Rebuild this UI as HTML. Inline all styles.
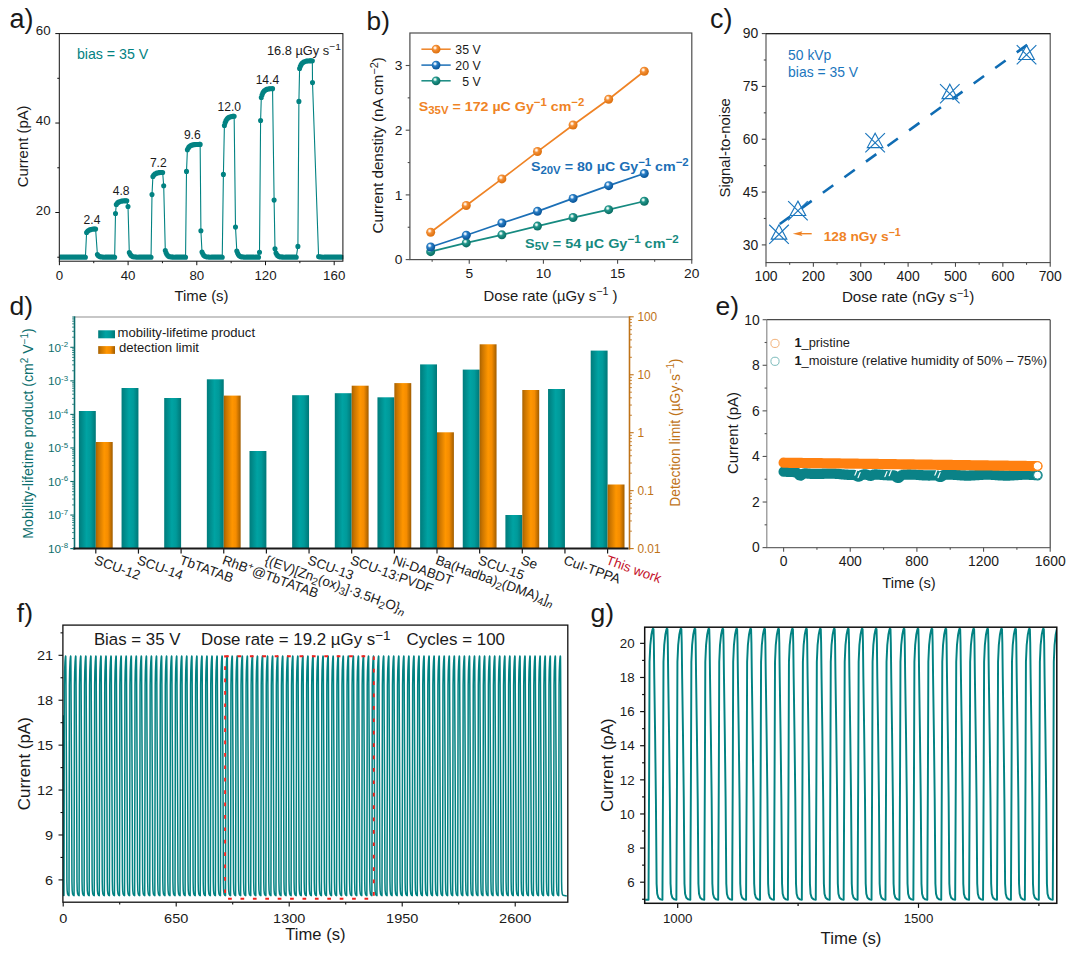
<!DOCTYPE html>
<html><head><meta charset="utf-8"><title>Figure</title>
<style>
html,body{margin:0;padding:0;background:#fff;}
body{width:1074px;height:953px;overflow:hidden;}
svg{display:block;font-family:'Liberation Sans', sans-serif;}
</style></head><body>
<svg width="1074" height="953" viewBox="0 0 1074 953">
<rect width="1074" height="953" fill="#fff"/>
<defs>
<radialGradient id="gO" cx="0.40" cy="0.38" r="0.68" fx="0.38" fy="0.34"><stop offset="0" stop-color="#ffffff"/><stop offset="0.14" stop-color="#ffe9d2"/><stop offset="0.36" stop-color="#f59037"/><stop offset="0.8" stop-color="#e07514"/><stop offset="1" stop-color="#e07514"/></radialGradient>
<radialGradient id="gB" cx="0.40" cy="0.38" r="0.68" fx="0.38" fy="0.34"><stop offset="0" stop-color="#ffffff"/><stop offset="0.14" stop-color="#d5e9fa"/><stop offset="0.36" stop-color="#2a7fc6"/><stop offset="0.8" stop-color="#0d5a9e"/><stop offset="1" stop-color="#0d5a9e"/></radialGradient>
<radialGradient id="gT" cx="0.40" cy="0.38" r="0.68" fx="0.38" fy="0.34"><stop offset="0" stop-color="#ffffff"/><stop offset="0.14" stop-color="#d2efe9"/><stop offset="0.36" stop-color="#22978c"/><stop offset="0.8" stop-color="#0d7268"/><stop offset="1" stop-color="#0d7268"/></radialGradient>
<linearGradient id="bT" x1="0" x2="1" y1="0" y2="0"><stop offset="0" stop-color="#007c7c"/><stop offset="0.12" stop-color="#008686"/><stop offset="0.45" stop-color="#00a3a3"/><stop offset="0.7" stop-color="#009a9a"/><stop offset="0.92" stop-color="#008080"/><stop offset="1" stop-color="#007878"/></linearGradient>
<linearGradient id="bO" x1="0" x2="1" y1="0" y2="0"><stop offset="0" stop-color="#a86200"/><stop offset="0.15" stop-color="#c97400"/><stop offset="0.5" stop-color="#ff9600"/><stop offset="0.72" stop-color="#f58c00"/><stop offset="0.92" stop-color="#b86a00"/><stop offset="1" stop-color="#a05c00"/></linearGradient>
</defs>
<clipPath id="ca"><rect x="59.3" y="33.6" width="284.1" height="227.6"/></clipPath>
<g clip-path="url(#ca)">
<polyline points="59.9,257.23 60.65,257.23 61.4,257.23 62.15,257.23 62.9,257.23 63.65,257.23 64.4,257.23 65.15,257.23 65.9,257.23 66.65,257.23 67.4,257.23 68.15,257.23 68.9,257.23 69.65,257.23 70.4,257.23 71.15,257.23 71.9,257.23 72.65,257.23 73.4,257.23 74.15,257.23 74.9,257.23 75.65,257.23 76.4,257.23 77.15,257.23 77.9,257.23 78.65,257.23 79.4,257.23 80.15,257.23 80.9,257.23 81.65,257.23 82.4,257.23 83.15,257.23 83.9,257.23 84.65,257.23 85.4,257.23 86.6,232.5 87.35,231.49 88.1,230.77 88.85,230.26 89.6,229.9 90.35,229.64 91.1,229.45 91.85,229.32 92.6,229.23 93.35,229.16 94.1,229.12 94.85,229.08 95.6,229.06 97.4,254.5 98.15,255.43 98.9,256.04 99.65,256.45 100.4,256.71 101.15,256.89 101.9,257.01 102.65,257.08 103.4,257.23 104.15,257.23 104.9,257.23 105.65,257.23 106.4,257.23 107.15,257.23 107.9,257.23 108.65,257.23 109.4,257.23 110.15,257.23 110.9,257.23 111.65,257.23 112.4,257.23 113.15,257.23 113.9,257.23 114.65,257.23 115.5,213.5 116.3,204.5 117.05,203.43 117.8,202.67 118.55,202.13 119.3,201.75 120.05,201.47 120.8,201.28 121.55,201.14 122.3,201.04 123.05,200.97 123.8,200.92 124.55,200.89 125.3,200.86 126.05,200.84 126.8,200.83 128,206.5 129.3,252.5 130.05,254.11 130.8,255.17 131.55,255.87 132.3,256.34 133.05,256.64 133.8,256.84 134.55,256.97 135.3,257.06 136.05,257.12 136.8,257.23 137.55,257.23 138.3,257.23 139.05,257.23 139.8,257.23 140.55,257.23 141.3,257.23 142.05,257.23 142.8,257.23 143.55,257.23 144.3,257.23 145.05,257.23 145.8,257.23 146.55,257.23 147.3,257.23 148.05,257.23 148.8,257.23 149.55,257.23 150.3,257.23 151.05,257.23 152,194.6 152.9,176.5 153.65,175.32 154.4,174.47 155.15,173.87 155.9,173.45 156.65,173.15 157.4,172.93 158.15,172.78 158.9,172.67 159.65,172.59 160.4,172.54 161.15,172.5 161.9,172.47 162.65,172.45 163.7,185.7 165.3,250.5 166.05,252.79 166.8,254.31 167.55,255.3 168.3,255.96 169.05,256.39 169.8,256.68 170.55,256.87 171.3,256.99 172.05,257.07 172.8,257.13 173.55,257.23 174.3,257.23 175.05,257.23 175.8,257.23 176.55,257.23 177.3,257.23 178.05,257.23 178.8,257.23 179.55,257.23 180.3,257.23 181.05,257.23 181.8,257.23 182.55,257.23 183.3,257.23 184.05,257.23 184.8,257.23 185.55,257.23 186.5,171.4 187.4,149.8 188.15,148.24 188.9,147.13 189.65,146.34 190.4,145.78 191.15,145.38 191.9,145.1 192.65,144.9 193.4,144.75 194.15,144.65 194.9,144.58 195.65,144.53 196.4,144.49 197.15,144.46 197.9,144.45 198.65,144.43 199.4,144.42 200.15,144.42 200.9,230.7 202,252 202.75,253.78 203.5,254.96 204.25,255.73 205,256.24 205.75,256.58 206.5,256.8 207.25,256.95 208,257.04 208.75,257.11 209.5,257.23 210.25,257.23 211,257.23 211.75,257.23 212.5,257.23 213.25,257.23 214,257.23 214.75,257.23 215.5,257.23 216.25,257.23 217,257.23 217.75,257.23 218.5,257.23 219.25,257.23 220,257.23 220.75,257.23 221.5,257.23 222.25,257.23 223.4,174.4 224.4,125.5 225.15,122.81 225.9,120.9 226.65,119.54 227.4,118.58 228.15,117.89 228.9,117.4 229.65,117.06 230.4,116.81 231.15,116.63 231.9,116.51 232.65,116.42 233.4,116.36 234.15,116.31 235.5,227 236.8,251 237.55,253.12 238.3,254.52 239.05,255.45 239.8,256.05 240.55,256.45 241.3,256.72 242.05,256.89 242.8,257.01 243.55,257.08 244.3,257.23 245.05,257.23 245.8,257.23 246.55,257.23 247.3,257.23 248.05,257.23 248.8,257.23 249.55,257.23 250.3,257.23 251.05,257.23 251.8,257.23 252.55,257.23 253.3,257.23 254.05,257.23 254.8,257.23 255.55,257.23 256.3,257.23 257.05,257.23 257.8,257.23 258.55,257.23 259.5,252.2 260.6,120.5 261.3,97.5 262.05,94.93 262.8,93.1 263.55,91.8 264.3,90.88 265.05,90.22 265.8,89.75 266.55,89.42 267.3,89.18 268.05,89.01 268.8,88.89 269.55,88.81 270.3,88.75 271.05,88.71 271.8,88.68 272.55,88.65 274.1,200.1 275,248.8 276,253 276.75,254.44 277.5,255.39 278.25,256.02 279,256.43 279.75,256.7 280.5,256.88 281.25,257 282,257.08 282.75,257.13 283.5,257.23 284.25,257.23 285,257.23 285.75,257.23 286.5,257.23 287.25,257.23 288,257.23 288.75,257.23 289.5,257.23 290.25,257.23 291,257.23 291.75,257.23 292.5,257.23 293.25,257.23 294,257.23 294.75,257.23 295.5,257.23 296.25,257.23 297.9,246.4 298.9,101.4 299.6,68.5 300.35,66.28 301.1,64.69 301.85,63.57 302.6,62.77 303.35,62.2 304.1,61.8 304.85,61.51 305.6,61.3 306.35,61.16 307.1,61.05 307.85,60.98 308.6,60.93 309.35,60.89 310.1,60.87 310.85,60.85 311.6,60.83 312.35,60.82 312.5,82.6 318.6,256.5 319.35,256.75 320.1,256.91 320.85,257.02 321.6,257.09 322.35,257.23 323.1,257.23 323.85,257.23 324.6,257.23 325.35,257.23 326.1,257.23 326.85,257.23 327.6,257.23 328.35,257.23 329.1,257.23 329.85,257.23 330.6,257.23 331.35,257.23 332.1,257.23 332.85,257.23 333.6,257.23 334.35,257.23 335.1,257.23 335.85,257.23 336.6,257.23 337.35,257.23 338.1,257.23 338.85,257.23 339.6,257.23 340.35,257.23 341.1,257.23 341.85,257.23" fill="none" stroke="#028282" stroke-width="1.1" stroke-linejoin="round"/>
<path d="M57.35 257.23a2.55 2.55 0 1 0 5.1 0a2.55 2.55 0 1 0 -5.1 0M58.1 257.23a2.55 2.55 0 1 0 5.1 0a2.55 2.55 0 1 0 -5.1 0M58.85 257.23a2.55 2.55 0 1 0 5.1 0a2.55 2.55 0 1 0 -5.1 0M59.6 257.23a2.55 2.55 0 1 0 5.1 0a2.55 2.55 0 1 0 -5.1 0M60.35 257.23a2.55 2.55 0 1 0 5.1 0a2.55 2.55 0 1 0 -5.1 0M61.1 257.23a2.55 2.55 0 1 0 5.1 0a2.55 2.55 0 1 0 -5.1 0M61.85 257.23a2.55 2.55 0 1 0 5.1 0a2.55 2.55 0 1 0 -5.1 0M62.6 257.23a2.55 2.55 0 1 0 5.1 0a2.55 2.55 0 1 0 -5.1 0M63.35 257.23a2.55 2.55 0 1 0 5.1 0a2.55 2.55 0 1 0 -5.1 0M64.1 257.23a2.55 2.55 0 1 0 5.1 0a2.55 2.55 0 1 0 -5.1 0M64.85 257.23a2.55 2.55 0 1 0 5.1 0a2.55 2.55 0 1 0 -5.1 0M65.6 257.23a2.55 2.55 0 1 0 5.1 0a2.55 2.55 0 1 0 -5.1 0M66.35 257.23a2.55 2.55 0 1 0 5.1 0a2.55 2.55 0 1 0 -5.1 0M67.1 257.23a2.55 2.55 0 1 0 5.1 0a2.55 2.55 0 1 0 -5.1 0M67.85 257.23a2.55 2.55 0 1 0 5.1 0a2.55 2.55 0 1 0 -5.1 0M68.6 257.23a2.55 2.55 0 1 0 5.1 0a2.55 2.55 0 1 0 -5.1 0M69.35 257.23a2.55 2.55 0 1 0 5.1 0a2.55 2.55 0 1 0 -5.1 0M70.1 257.23a2.55 2.55 0 1 0 5.1 0a2.55 2.55 0 1 0 -5.1 0M70.85 257.23a2.55 2.55 0 1 0 5.1 0a2.55 2.55 0 1 0 -5.1 0M71.6 257.23a2.55 2.55 0 1 0 5.1 0a2.55 2.55 0 1 0 -5.1 0M72.35 257.23a2.55 2.55 0 1 0 5.1 0a2.55 2.55 0 1 0 -5.1 0M73.1 257.23a2.55 2.55 0 1 0 5.1 0a2.55 2.55 0 1 0 -5.1 0M73.85 257.23a2.55 2.55 0 1 0 5.1 0a2.55 2.55 0 1 0 -5.1 0M74.6 257.23a2.55 2.55 0 1 0 5.1 0a2.55 2.55 0 1 0 -5.1 0M75.35 257.23a2.55 2.55 0 1 0 5.1 0a2.55 2.55 0 1 0 -5.1 0M76.1 257.23a2.55 2.55 0 1 0 5.1 0a2.55 2.55 0 1 0 -5.1 0M76.85 257.23a2.55 2.55 0 1 0 5.1 0a2.55 2.55 0 1 0 -5.1 0M77.6 257.23a2.55 2.55 0 1 0 5.1 0a2.55 2.55 0 1 0 -5.1 0M78.35 257.23a2.55 2.55 0 1 0 5.1 0a2.55 2.55 0 1 0 -5.1 0M79.1 257.23a2.55 2.55 0 1 0 5.1 0a2.55 2.55 0 1 0 -5.1 0M79.85 257.23a2.55 2.55 0 1 0 5.1 0a2.55 2.55 0 1 0 -5.1 0M80.6 257.23a2.55 2.55 0 1 0 5.1 0a2.55 2.55 0 1 0 -5.1 0M81.35 257.23a2.55 2.55 0 1 0 5.1 0a2.55 2.55 0 1 0 -5.1 0M82.1 257.23a2.55 2.55 0 1 0 5.1 0a2.55 2.55 0 1 0 -5.1 0M82.85 257.23a2.55 2.55 0 1 0 5.1 0a2.55 2.55 0 1 0 -5.1 0M84.05 232.5a2.55 2.55 0 1 0 5.1 0a2.55 2.55 0 1 0 -5.1 0M84.8 231.49a2.55 2.55 0 1 0 5.1 0a2.55 2.55 0 1 0 -5.1 0M85.55 230.77a2.55 2.55 0 1 0 5.1 0a2.55 2.55 0 1 0 -5.1 0M86.3 230.26a2.55 2.55 0 1 0 5.1 0a2.55 2.55 0 1 0 -5.1 0M87.05 229.9a2.55 2.55 0 1 0 5.1 0a2.55 2.55 0 1 0 -5.1 0M87.8 229.64a2.55 2.55 0 1 0 5.1 0a2.55 2.55 0 1 0 -5.1 0M88.55 229.45a2.55 2.55 0 1 0 5.1 0a2.55 2.55 0 1 0 -5.1 0M89.3 229.32a2.55 2.55 0 1 0 5.1 0a2.55 2.55 0 1 0 -5.1 0M90.05 229.23a2.55 2.55 0 1 0 5.1 0a2.55 2.55 0 1 0 -5.1 0M90.8 229.16a2.55 2.55 0 1 0 5.1 0a2.55 2.55 0 1 0 -5.1 0M91.55 229.12a2.55 2.55 0 1 0 5.1 0a2.55 2.55 0 1 0 -5.1 0M92.3 229.08a2.55 2.55 0 1 0 5.1 0a2.55 2.55 0 1 0 -5.1 0M93.05 229.06a2.55 2.55 0 1 0 5.1 0a2.55 2.55 0 1 0 -5.1 0M94.85 254.5a2.55 2.55 0 1 0 5.1 0a2.55 2.55 0 1 0 -5.1 0M95.6 255.43a2.55 2.55 0 1 0 5.1 0a2.55 2.55 0 1 0 -5.1 0M96.35 256.04a2.55 2.55 0 1 0 5.1 0a2.55 2.55 0 1 0 -5.1 0M97.1 256.45a2.55 2.55 0 1 0 5.1 0a2.55 2.55 0 1 0 -5.1 0M97.85 256.71a2.55 2.55 0 1 0 5.1 0a2.55 2.55 0 1 0 -5.1 0M98.6 256.89a2.55 2.55 0 1 0 5.1 0a2.55 2.55 0 1 0 -5.1 0M99.35 257.01a2.55 2.55 0 1 0 5.1 0a2.55 2.55 0 1 0 -5.1 0M100.1 257.08a2.55 2.55 0 1 0 5.1 0a2.55 2.55 0 1 0 -5.1 0M100.85 257.23a2.55 2.55 0 1 0 5.1 0a2.55 2.55 0 1 0 -5.1 0M101.6 257.23a2.55 2.55 0 1 0 5.1 0a2.55 2.55 0 1 0 -5.1 0M102.35 257.23a2.55 2.55 0 1 0 5.1 0a2.55 2.55 0 1 0 -5.1 0M103.1 257.23a2.55 2.55 0 1 0 5.1 0a2.55 2.55 0 1 0 -5.1 0M103.85 257.23a2.55 2.55 0 1 0 5.1 0a2.55 2.55 0 1 0 -5.1 0M104.6 257.23a2.55 2.55 0 1 0 5.1 0a2.55 2.55 0 1 0 -5.1 0M105.35 257.23a2.55 2.55 0 1 0 5.1 0a2.55 2.55 0 1 0 -5.1 0M106.1 257.23a2.55 2.55 0 1 0 5.1 0a2.55 2.55 0 1 0 -5.1 0M106.85 257.23a2.55 2.55 0 1 0 5.1 0a2.55 2.55 0 1 0 -5.1 0M107.6 257.23a2.55 2.55 0 1 0 5.1 0a2.55 2.55 0 1 0 -5.1 0M108.35 257.23a2.55 2.55 0 1 0 5.1 0a2.55 2.55 0 1 0 -5.1 0M109.1 257.23a2.55 2.55 0 1 0 5.1 0a2.55 2.55 0 1 0 -5.1 0M109.85 257.23a2.55 2.55 0 1 0 5.1 0a2.55 2.55 0 1 0 -5.1 0M110.6 257.23a2.55 2.55 0 1 0 5.1 0a2.55 2.55 0 1 0 -5.1 0M111.35 257.23a2.55 2.55 0 1 0 5.1 0a2.55 2.55 0 1 0 -5.1 0M112.1 257.23a2.55 2.55 0 1 0 5.1 0a2.55 2.55 0 1 0 -5.1 0M112.95 213.5a2.55 2.55 0 1 0 5.1 0a2.55 2.55 0 1 0 -5.1 0M113.75 204.5a2.55 2.55 0 1 0 5.1 0a2.55 2.55 0 1 0 -5.1 0M114.5 203.43a2.55 2.55 0 1 0 5.1 0a2.55 2.55 0 1 0 -5.1 0M115.25 202.67a2.55 2.55 0 1 0 5.1 0a2.55 2.55 0 1 0 -5.1 0M116 202.13a2.55 2.55 0 1 0 5.1 0a2.55 2.55 0 1 0 -5.1 0M116.75 201.75a2.55 2.55 0 1 0 5.1 0a2.55 2.55 0 1 0 -5.1 0M117.5 201.47a2.55 2.55 0 1 0 5.1 0a2.55 2.55 0 1 0 -5.1 0M118.25 201.28a2.55 2.55 0 1 0 5.1 0a2.55 2.55 0 1 0 -5.1 0M119 201.14a2.55 2.55 0 1 0 5.1 0a2.55 2.55 0 1 0 -5.1 0M119.75 201.04a2.55 2.55 0 1 0 5.1 0a2.55 2.55 0 1 0 -5.1 0M120.5 200.97a2.55 2.55 0 1 0 5.1 0a2.55 2.55 0 1 0 -5.1 0M121.25 200.92a2.55 2.55 0 1 0 5.1 0a2.55 2.55 0 1 0 -5.1 0M122 200.89a2.55 2.55 0 1 0 5.1 0a2.55 2.55 0 1 0 -5.1 0M122.75 200.86a2.55 2.55 0 1 0 5.1 0a2.55 2.55 0 1 0 -5.1 0M123.5 200.84a2.55 2.55 0 1 0 5.1 0a2.55 2.55 0 1 0 -5.1 0M124.25 200.83a2.55 2.55 0 1 0 5.1 0a2.55 2.55 0 1 0 -5.1 0M125.45 206.5a2.55 2.55 0 1 0 5.1 0a2.55 2.55 0 1 0 -5.1 0M126.75 252.5a2.55 2.55 0 1 0 5.1 0a2.55 2.55 0 1 0 -5.1 0M127.5 254.11a2.55 2.55 0 1 0 5.1 0a2.55 2.55 0 1 0 -5.1 0M128.25 255.17a2.55 2.55 0 1 0 5.1 0a2.55 2.55 0 1 0 -5.1 0M129 255.87a2.55 2.55 0 1 0 5.1 0a2.55 2.55 0 1 0 -5.1 0M129.75 256.34a2.55 2.55 0 1 0 5.1 0a2.55 2.55 0 1 0 -5.1 0M130.5 256.64a2.55 2.55 0 1 0 5.1 0a2.55 2.55 0 1 0 -5.1 0M131.25 256.84a2.55 2.55 0 1 0 5.1 0a2.55 2.55 0 1 0 -5.1 0M132 256.97a2.55 2.55 0 1 0 5.1 0a2.55 2.55 0 1 0 -5.1 0M132.75 257.06a2.55 2.55 0 1 0 5.1 0a2.55 2.55 0 1 0 -5.1 0M133.5 257.12a2.55 2.55 0 1 0 5.1 0a2.55 2.55 0 1 0 -5.1 0M134.25 257.23a2.55 2.55 0 1 0 5.1 0a2.55 2.55 0 1 0 -5.1 0M135 257.23a2.55 2.55 0 1 0 5.1 0a2.55 2.55 0 1 0 -5.1 0M135.75 257.23a2.55 2.55 0 1 0 5.1 0a2.55 2.55 0 1 0 -5.1 0M136.5 257.23a2.55 2.55 0 1 0 5.1 0a2.55 2.55 0 1 0 -5.1 0M137.25 257.23a2.55 2.55 0 1 0 5.1 0a2.55 2.55 0 1 0 -5.1 0M138 257.23a2.55 2.55 0 1 0 5.1 0a2.55 2.55 0 1 0 -5.1 0M138.75 257.23a2.55 2.55 0 1 0 5.1 0a2.55 2.55 0 1 0 -5.1 0M139.5 257.23a2.55 2.55 0 1 0 5.1 0a2.55 2.55 0 1 0 -5.1 0M140.25 257.23a2.55 2.55 0 1 0 5.1 0a2.55 2.55 0 1 0 -5.1 0M141 257.23a2.55 2.55 0 1 0 5.1 0a2.55 2.55 0 1 0 -5.1 0M141.75 257.23a2.55 2.55 0 1 0 5.1 0a2.55 2.55 0 1 0 -5.1 0M142.5 257.23a2.55 2.55 0 1 0 5.1 0a2.55 2.55 0 1 0 -5.1 0M143.25 257.23a2.55 2.55 0 1 0 5.1 0a2.55 2.55 0 1 0 -5.1 0M144 257.23a2.55 2.55 0 1 0 5.1 0a2.55 2.55 0 1 0 -5.1 0M144.75 257.23a2.55 2.55 0 1 0 5.1 0a2.55 2.55 0 1 0 -5.1 0M145.5 257.23a2.55 2.55 0 1 0 5.1 0a2.55 2.55 0 1 0 -5.1 0M146.25 257.23a2.55 2.55 0 1 0 5.1 0a2.55 2.55 0 1 0 -5.1 0M147 257.23a2.55 2.55 0 1 0 5.1 0a2.55 2.55 0 1 0 -5.1 0M147.75 257.23a2.55 2.55 0 1 0 5.1 0a2.55 2.55 0 1 0 -5.1 0M148.5 257.23a2.55 2.55 0 1 0 5.1 0a2.55 2.55 0 1 0 -5.1 0M149.45 194.6a2.55 2.55 0 1 0 5.1 0a2.55 2.55 0 1 0 -5.1 0M150.35 176.5a2.55 2.55 0 1 0 5.1 0a2.55 2.55 0 1 0 -5.1 0M151.1 175.32a2.55 2.55 0 1 0 5.1 0a2.55 2.55 0 1 0 -5.1 0M151.85 174.47a2.55 2.55 0 1 0 5.1 0a2.55 2.55 0 1 0 -5.1 0M152.6 173.87a2.55 2.55 0 1 0 5.1 0a2.55 2.55 0 1 0 -5.1 0M153.35 173.45a2.55 2.55 0 1 0 5.1 0a2.55 2.55 0 1 0 -5.1 0M154.1 173.15a2.55 2.55 0 1 0 5.1 0a2.55 2.55 0 1 0 -5.1 0M154.85 172.93a2.55 2.55 0 1 0 5.1 0a2.55 2.55 0 1 0 -5.1 0M155.6 172.78a2.55 2.55 0 1 0 5.1 0a2.55 2.55 0 1 0 -5.1 0M156.35 172.67a2.55 2.55 0 1 0 5.1 0a2.55 2.55 0 1 0 -5.1 0M157.1 172.59a2.55 2.55 0 1 0 5.1 0a2.55 2.55 0 1 0 -5.1 0M157.85 172.54a2.55 2.55 0 1 0 5.1 0a2.55 2.55 0 1 0 -5.1 0M158.6 172.5a2.55 2.55 0 1 0 5.1 0a2.55 2.55 0 1 0 -5.1 0M159.35 172.47a2.55 2.55 0 1 0 5.1 0a2.55 2.55 0 1 0 -5.1 0M160.1 172.45a2.55 2.55 0 1 0 5.1 0a2.55 2.55 0 1 0 -5.1 0M161.15 185.7a2.55 2.55 0 1 0 5.1 0a2.55 2.55 0 1 0 -5.1 0M162.75 250.5a2.55 2.55 0 1 0 5.1 0a2.55 2.55 0 1 0 -5.1 0M163.5 252.79a2.55 2.55 0 1 0 5.1 0a2.55 2.55 0 1 0 -5.1 0M164.25 254.31a2.55 2.55 0 1 0 5.1 0a2.55 2.55 0 1 0 -5.1 0M165 255.3a2.55 2.55 0 1 0 5.1 0a2.55 2.55 0 1 0 -5.1 0M165.75 255.96a2.55 2.55 0 1 0 5.1 0a2.55 2.55 0 1 0 -5.1 0M166.5 256.39a2.55 2.55 0 1 0 5.1 0a2.55 2.55 0 1 0 -5.1 0M167.25 256.68a2.55 2.55 0 1 0 5.1 0a2.55 2.55 0 1 0 -5.1 0M168 256.87a2.55 2.55 0 1 0 5.1 0a2.55 2.55 0 1 0 -5.1 0M168.75 256.99a2.55 2.55 0 1 0 5.1 0a2.55 2.55 0 1 0 -5.1 0M169.5 257.07a2.55 2.55 0 1 0 5.1 0a2.55 2.55 0 1 0 -5.1 0M170.25 257.13a2.55 2.55 0 1 0 5.1 0a2.55 2.55 0 1 0 -5.1 0M171 257.23a2.55 2.55 0 1 0 5.1 0a2.55 2.55 0 1 0 -5.1 0M171.75 257.23a2.55 2.55 0 1 0 5.1 0a2.55 2.55 0 1 0 -5.1 0M172.5 257.23a2.55 2.55 0 1 0 5.1 0a2.55 2.55 0 1 0 -5.1 0M173.25 257.23a2.55 2.55 0 1 0 5.1 0a2.55 2.55 0 1 0 -5.1 0M174 257.23a2.55 2.55 0 1 0 5.1 0a2.55 2.55 0 1 0 -5.1 0M174.75 257.23a2.55 2.55 0 1 0 5.1 0a2.55 2.55 0 1 0 -5.1 0M175.5 257.23a2.55 2.55 0 1 0 5.1 0a2.55 2.55 0 1 0 -5.1 0M176.25 257.23a2.55 2.55 0 1 0 5.1 0a2.55 2.55 0 1 0 -5.1 0M177 257.23a2.55 2.55 0 1 0 5.1 0a2.55 2.55 0 1 0 -5.1 0M177.75 257.23a2.55 2.55 0 1 0 5.1 0a2.55 2.55 0 1 0 -5.1 0M178.5 257.23a2.55 2.55 0 1 0 5.1 0a2.55 2.55 0 1 0 -5.1 0M179.25 257.23a2.55 2.55 0 1 0 5.1 0a2.55 2.55 0 1 0 -5.1 0M180 257.23a2.55 2.55 0 1 0 5.1 0a2.55 2.55 0 1 0 -5.1 0M180.75 257.23a2.55 2.55 0 1 0 5.1 0a2.55 2.55 0 1 0 -5.1 0M181.5 257.23a2.55 2.55 0 1 0 5.1 0a2.55 2.55 0 1 0 -5.1 0M182.25 257.23a2.55 2.55 0 1 0 5.1 0a2.55 2.55 0 1 0 -5.1 0M183 257.23a2.55 2.55 0 1 0 5.1 0a2.55 2.55 0 1 0 -5.1 0M183.95 171.4a2.55 2.55 0 1 0 5.1 0a2.55 2.55 0 1 0 -5.1 0M184.85 149.8a2.55 2.55 0 1 0 5.1 0a2.55 2.55 0 1 0 -5.1 0M185.6 148.24a2.55 2.55 0 1 0 5.1 0a2.55 2.55 0 1 0 -5.1 0M186.35 147.13a2.55 2.55 0 1 0 5.1 0a2.55 2.55 0 1 0 -5.1 0M187.1 146.34a2.55 2.55 0 1 0 5.1 0a2.55 2.55 0 1 0 -5.1 0M187.85 145.78a2.55 2.55 0 1 0 5.1 0a2.55 2.55 0 1 0 -5.1 0M188.6 145.38a2.55 2.55 0 1 0 5.1 0a2.55 2.55 0 1 0 -5.1 0M189.35 145.1a2.55 2.55 0 1 0 5.1 0a2.55 2.55 0 1 0 -5.1 0M190.1 144.9a2.55 2.55 0 1 0 5.1 0a2.55 2.55 0 1 0 -5.1 0M190.85 144.75a2.55 2.55 0 1 0 5.1 0a2.55 2.55 0 1 0 -5.1 0M191.6 144.65a2.55 2.55 0 1 0 5.1 0a2.55 2.55 0 1 0 -5.1 0M192.35 144.58a2.55 2.55 0 1 0 5.1 0a2.55 2.55 0 1 0 -5.1 0M193.1 144.53a2.55 2.55 0 1 0 5.1 0a2.55 2.55 0 1 0 -5.1 0M193.85 144.49a2.55 2.55 0 1 0 5.1 0a2.55 2.55 0 1 0 -5.1 0M194.6 144.46a2.55 2.55 0 1 0 5.1 0a2.55 2.55 0 1 0 -5.1 0M195.35 144.45a2.55 2.55 0 1 0 5.1 0a2.55 2.55 0 1 0 -5.1 0M196.1 144.43a2.55 2.55 0 1 0 5.1 0a2.55 2.55 0 1 0 -5.1 0M196.85 144.42a2.55 2.55 0 1 0 5.1 0a2.55 2.55 0 1 0 -5.1 0M197.6 144.42a2.55 2.55 0 1 0 5.1 0a2.55 2.55 0 1 0 -5.1 0M198.35 230.7a2.55 2.55 0 1 0 5.1 0a2.55 2.55 0 1 0 -5.1 0M199.45 252a2.55 2.55 0 1 0 5.1 0a2.55 2.55 0 1 0 -5.1 0M200.2 253.78a2.55 2.55 0 1 0 5.1 0a2.55 2.55 0 1 0 -5.1 0M200.95 254.96a2.55 2.55 0 1 0 5.1 0a2.55 2.55 0 1 0 -5.1 0M201.7 255.73a2.55 2.55 0 1 0 5.1 0a2.55 2.55 0 1 0 -5.1 0M202.45 256.24a2.55 2.55 0 1 0 5.1 0a2.55 2.55 0 1 0 -5.1 0M203.2 256.58a2.55 2.55 0 1 0 5.1 0a2.55 2.55 0 1 0 -5.1 0M203.95 256.8a2.55 2.55 0 1 0 5.1 0a2.55 2.55 0 1 0 -5.1 0M204.7 256.95a2.55 2.55 0 1 0 5.1 0a2.55 2.55 0 1 0 -5.1 0M205.45 257.04a2.55 2.55 0 1 0 5.1 0a2.55 2.55 0 1 0 -5.1 0M206.2 257.11a2.55 2.55 0 1 0 5.1 0a2.55 2.55 0 1 0 -5.1 0M206.95 257.23a2.55 2.55 0 1 0 5.1 0a2.55 2.55 0 1 0 -5.1 0M207.7 257.23a2.55 2.55 0 1 0 5.1 0a2.55 2.55 0 1 0 -5.1 0M208.45 257.23a2.55 2.55 0 1 0 5.1 0a2.55 2.55 0 1 0 -5.1 0M209.2 257.23a2.55 2.55 0 1 0 5.1 0a2.55 2.55 0 1 0 -5.1 0M209.95 257.23a2.55 2.55 0 1 0 5.1 0a2.55 2.55 0 1 0 -5.1 0M210.7 257.23a2.55 2.55 0 1 0 5.1 0a2.55 2.55 0 1 0 -5.1 0M211.45 257.23a2.55 2.55 0 1 0 5.1 0a2.55 2.55 0 1 0 -5.1 0M212.2 257.23a2.55 2.55 0 1 0 5.1 0a2.55 2.55 0 1 0 -5.1 0M212.95 257.23a2.55 2.55 0 1 0 5.1 0a2.55 2.55 0 1 0 -5.1 0M213.7 257.23a2.55 2.55 0 1 0 5.1 0a2.55 2.55 0 1 0 -5.1 0M214.45 257.23a2.55 2.55 0 1 0 5.1 0a2.55 2.55 0 1 0 -5.1 0M215.2 257.23a2.55 2.55 0 1 0 5.1 0a2.55 2.55 0 1 0 -5.1 0M215.95 257.23a2.55 2.55 0 1 0 5.1 0a2.55 2.55 0 1 0 -5.1 0M216.7 257.23a2.55 2.55 0 1 0 5.1 0a2.55 2.55 0 1 0 -5.1 0M217.45 257.23a2.55 2.55 0 1 0 5.1 0a2.55 2.55 0 1 0 -5.1 0M218.2 257.23a2.55 2.55 0 1 0 5.1 0a2.55 2.55 0 1 0 -5.1 0M218.95 257.23a2.55 2.55 0 1 0 5.1 0a2.55 2.55 0 1 0 -5.1 0M219.7 257.23a2.55 2.55 0 1 0 5.1 0a2.55 2.55 0 1 0 -5.1 0M220.85 174.4a2.55 2.55 0 1 0 5.1 0a2.55 2.55 0 1 0 -5.1 0M221.85 125.5a2.55 2.55 0 1 0 5.1 0a2.55 2.55 0 1 0 -5.1 0M222.6 122.81a2.55 2.55 0 1 0 5.1 0a2.55 2.55 0 1 0 -5.1 0M223.35 120.9a2.55 2.55 0 1 0 5.1 0a2.55 2.55 0 1 0 -5.1 0M224.1 119.54a2.55 2.55 0 1 0 5.1 0a2.55 2.55 0 1 0 -5.1 0M224.85 118.58a2.55 2.55 0 1 0 5.1 0a2.55 2.55 0 1 0 -5.1 0M225.6 117.89a2.55 2.55 0 1 0 5.1 0a2.55 2.55 0 1 0 -5.1 0M226.35 117.4a2.55 2.55 0 1 0 5.1 0a2.55 2.55 0 1 0 -5.1 0M227.1 117.06a2.55 2.55 0 1 0 5.1 0a2.55 2.55 0 1 0 -5.1 0M227.85 116.81a2.55 2.55 0 1 0 5.1 0a2.55 2.55 0 1 0 -5.1 0M228.6 116.63a2.55 2.55 0 1 0 5.1 0a2.55 2.55 0 1 0 -5.1 0M229.35 116.51a2.55 2.55 0 1 0 5.1 0a2.55 2.55 0 1 0 -5.1 0M230.1 116.42a2.55 2.55 0 1 0 5.1 0a2.55 2.55 0 1 0 -5.1 0M230.85 116.36a2.55 2.55 0 1 0 5.1 0a2.55 2.55 0 1 0 -5.1 0M231.6 116.31a2.55 2.55 0 1 0 5.1 0a2.55 2.55 0 1 0 -5.1 0M232.95 227a2.55 2.55 0 1 0 5.1 0a2.55 2.55 0 1 0 -5.1 0M234.25 251a2.55 2.55 0 1 0 5.1 0a2.55 2.55 0 1 0 -5.1 0M235 253.12a2.55 2.55 0 1 0 5.1 0a2.55 2.55 0 1 0 -5.1 0M235.75 254.52a2.55 2.55 0 1 0 5.1 0a2.55 2.55 0 1 0 -5.1 0M236.5 255.45a2.55 2.55 0 1 0 5.1 0a2.55 2.55 0 1 0 -5.1 0M237.25 256.05a2.55 2.55 0 1 0 5.1 0a2.55 2.55 0 1 0 -5.1 0M238 256.45a2.55 2.55 0 1 0 5.1 0a2.55 2.55 0 1 0 -5.1 0M238.75 256.72a2.55 2.55 0 1 0 5.1 0a2.55 2.55 0 1 0 -5.1 0M239.5 256.89a2.55 2.55 0 1 0 5.1 0a2.55 2.55 0 1 0 -5.1 0M240.25 257.01a2.55 2.55 0 1 0 5.1 0a2.55 2.55 0 1 0 -5.1 0M241 257.08a2.55 2.55 0 1 0 5.1 0a2.55 2.55 0 1 0 -5.1 0M241.75 257.23a2.55 2.55 0 1 0 5.1 0a2.55 2.55 0 1 0 -5.1 0M242.5 257.23a2.55 2.55 0 1 0 5.1 0a2.55 2.55 0 1 0 -5.1 0M243.25 257.23a2.55 2.55 0 1 0 5.1 0a2.55 2.55 0 1 0 -5.1 0M244 257.23a2.55 2.55 0 1 0 5.1 0a2.55 2.55 0 1 0 -5.1 0M244.75 257.23a2.55 2.55 0 1 0 5.1 0a2.55 2.55 0 1 0 -5.1 0M245.5 257.23a2.55 2.55 0 1 0 5.1 0a2.55 2.55 0 1 0 -5.1 0M246.25 257.23a2.55 2.55 0 1 0 5.1 0a2.55 2.55 0 1 0 -5.1 0M247 257.23a2.55 2.55 0 1 0 5.1 0a2.55 2.55 0 1 0 -5.1 0M247.75 257.23a2.55 2.55 0 1 0 5.1 0a2.55 2.55 0 1 0 -5.1 0M248.5 257.23a2.55 2.55 0 1 0 5.1 0a2.55 2.55 0 1 0 -5.1 0M249.25 257.23a2.55 2.55 0 1 0 5.1 0a2.55 2.55 0 1 0 -5.1 0M250 257.23a2.55 2.55 0 1 0 5.1 0a2.55 2.55 0 1 0 -5.1 0M250.75 257.23a2.55 2.55 0 1 0 5.1 0a2.55 2.55 0 1 0 -5.1 0M251.5 257.23a2.55 2.55 0 1 0 5.1 0a2.55 2.55 0 1 0 -5.1 0M252.25 257.23a2.55 2.55 0 1 0 5.1 0a2.55 2.55 0 1 0 -5.1 0M253 257.23a2.55 2.55 0 1 0 5.1 0a2.55 2.55 0 1 0 -5.1 0M253.75 257.23a2.55 2.55 0 1 0 5.1 0a2.55 2.55 0 1 0 -5.1 0M254.5 257.23a2.55 2.55 0 1 0 5.1 0a2.55 2.55 0 1 0 -5.1 0M255.25 257.23a2.55 2.55 0 1 0 5.1 0a2.55 2.55 0 1 0 -5.1 0M256 257.23a2.55 2.55 0 1 0 5.1 0a2.55 2.55 0 1 0 -5.1 0M256.95 252.2a2.55 2.55 0 1 0 5.1 0a2.55 2.55 0 1 0 -5.1 0M258.05 120.5a2.55 2.55 0 1 0 5.1 0a2.55 2.55 0 1 0 -5.1 0M258.75 97.5a2.55 2.55 0 1 0 5.1 0a2.55 2.55 0 1 0 -5.1 0M259.5 94.93a2.55 2.55 0 1 0 5.1 0a2.55 2.55 0 1 0 -5.1 0M260.25 93.1a2.55 2.55 0 1 0 5.1 0a2.55 2.55 0 1 0 -5.1 0M261 91.8a2.55 2.55 0 1 0 5.1 0a2.55 2.55 0 1 0 -5.1 0M261.75 90.88a2.55 2.55 0 1 0 5.1 0a2.55 2.55 0 1 0 -5.1 0M262.5 90.22a2.55 2.55 0 1 0 5.1 0a2.55 2.55 0 1 0 -5.1 0M263.25 89.75a2.55 2.55 0 1 0 5.1 0a2.55 2.55 0 1 0 -5.1 0M264 89.42a2.55 2.55 0 1 0 5.1 0a2.55 2.55 0 1 0 -5.1 0M264.75 89.18a2.55 2.55 0 1 0 5.1 0a2.55 2.55 0 1 0 -5.1 0M265.5 89.01a2.55 2.55 0 1 0 5.1 0a2.55 2.55 0 1 0 -5.1 0M266.25 88.89a2.55 2.55 0 1 0 5.1 0a2.55 2.55 0 1 0 -5.1 0M267 88.81a2.55 2.55 0 1 0 5.1 0a2.55 2.55 0 1 0 -5.1 0M267.75 88.75a2.55 2.55 0 1 0 5.1 0a2.55 2.55 0 1 0 -5.1 0M268.5 88.71a2.55 2.55 0 1 0 5.1 0a2.55 2.55 0 1 0 -5.1 0M269.25 88.68a2.55 2.55 0 1 0 5.1 0a2.55 2.55 0 1 0 -5.1 0M270 88.65a2.55 2.55 0 1 0 5.1 0a2.55 2.55 0 1 0 -5.1 0M271.55 200.1a2.55 2.55 0 1 0 5.1 0a2.55 2.55 0 1 0 -5.1 0M272.45 248.8a2.55 2.55 0 1 0 5.1 0a2.55 2.55 0 1 0 -5.1 0M273.45 253a2.55 2.55 0 1 0 5.1 0a2.55 2.55 0 1 0 -5.1 0M274.2 254.44a2.55 2.55 0 1 0 5.1 0a2.55 2.55 0 1 0 -5.1 0M274.95 255.39a2.55 2.55 0 1 0 5.1 0a2.55 2.55 0 1 0 -5.1 0M275.7 256.02a2.55 2.55 0 1 0 5.1 0a2.55 2.55 0 1 0 -5.1 0M276.45 256.43a2.55 2.55 0 1 0 5.1 0a2.55 2.55 0 1 0 -5.1 0M277.2 256.7a2.55 2.55 0 1 0 5.1 0a2.55 2.55 0 1 0 -5.1 0M277.95 256.88a2.55 2.55 0 1 0 5.1 0a2.55 2.55 0 1 0 -5.1 0M278.7 257a2.55 2.55 0 1 0 5.1 0a2.55 2.55 0 1 0 -5.1 0M279.45 257.08a2.55 2.55 0 1 0 5.1 0a2.55 2.55 0 1 0 -5.1 0M280.2 257.13a2.55 2.55 0 1 0 5.1 0a2.55 2.55 0 1 0 -5.1 0M280.95 257.23a2.55 2.55 0 1 0 5.1 0a2.55 2.55 0 1 0 -5.1 0M281.7 257.23a2.55 2.55 0 1 0 5.1 0a2.55 2.55 0 1 0 -5.1 0M282.45 257.23a2.55 2.55 0 1 0 5.1 0a2.55 2.55 0 1 0 -5.1 0M283.2 257.23a2.55 2.55 0 1 0 5.1 0a2.55 2.55 0 1 0 -5.1 0M283.95 257.23a2.55 2.55 0 1 0 5.1 0a2.55 2.55 0 1 0 -5.1 0M284.7 257.23a2.55 2.55 0 1 0 5.1 0a2.55 2.55 0 1 0 -5.1 0M285.45 257.23a2.55 2.55 0 1 0 5.1 0a2.55 2.55 0 1 0 -5.1 0M286.2 257.23a2.55 2.55 0 1 0 5.1 0a2.55 2.55 0 1 0 -5.1 0M286.95 257.23a2.55 2.55 0 1 0 5.1 0a2.55 2.55 0 1 0 -5.1 0M287.7 257.23a2.55 2.55 0 1 0 5.1 0a2.55 2.55 0 1 0 -5.1 0M288.45 257.23a2.55 2.55 0 1 0 5.1 0a2.55 2.55 0 1 0 -5.1 0M289.2 257.23a2.55 2.55 0 1 0 5.1 0a2.55 2.55 0 1 0 -5.1 0M289.95 257.23a2.55 2.55 0 1 0 5.1 0a2.55 2.55 0 1 0 -5.1 0M290.7 257.23a2.55 2.55 0 1 0 5.1 0a2.55 2.55 0 1 0 -5.1 0M291.45 257.23a2.55 2.55 0 1 0 5.1 0a2.55 2.55 0 1 0 -5.1 0M292.2 257.23a2.55 2.55 0 1 0 5.1 0a2.55 2.55 0 1 0 -5.1 0M292.95 257.23a2.55 2.55 0 1 0 5.1 0a2.55 2.55 0 1 0 -5.1 0M293.7 257.23a2.55 2.55 0 1 0 5.1 0a2.55 2.55 0 1 0 -5.1 0M295.35 246.4a2.55 2.55 0 1 0 5.1 0a2.55 2.55 0 1 0 -5.1 0M296.35 101.4a2.55 2.55 0 1 0 5.1 0a2.55 2.55 0 1 0 -5.1 0M297.05 68.5a2.55 2.55 0 1 0 5.1 0a2.55 2.55 0 1 0 -5.1 0M297.8 66.28a2.55 2.55 0 1 0 5.1 0a2.55 2.55 0 1 0 -5.1 0M298.55 64.69a2.55 2.55 0 1 0 5.1 0a2.55 2.55 0 1 0 -5.1 0M299.3 63.57a2.55 2.55 0 1 0 5.1 0a2.55 2.55 0 1 0 -5.1 0M300.05 62.77a2.55 2.55 0 1 0 5.1 0a2.55 2.55 0 1 0 -5.1 0M300.8 62.2a2.55 2.55 0 1 0 5.1 0a2.55 2.55 0 1 0 -5.1 0M301.55 61.8a2.55 2.55 0 1 0 5.1 0a2.55 2.55 0 1 0 -5.1 0M302.3 61.51a2.55 2.55 0 1 0 5.1 0a2.55 2.55 0 1 0 -5.1 0M303.05 61.3a2.55 2.55 0 1 0 5.1 0a2.55 2.55 0 1 0 -5.1 0M303.8 61.16a2.55 2.55 0 1 0 5.1 0a2.55 2.55 0 1 0 -5.1 0M304.55 61.05a2.55 2.55 0 1 0 5.1 0a2.55 2.55 0 1 0 -5.1 0M305.3 60.98a2.55 2.55 0 1 0 5.1 0a2.55 2.55 0 1 0 -5.1 0M306.05 60.93a2.55 2.55 0 1 0 5.1 0a2.55 2.55 0 1 0 -5.1 0M306.8 60.89a2.55 2.55 0 1 0 5.1 0a2.55 2.55 0 1 0 -5.1 0M307.55 60.87a2.55 2.55 0 1 0 5.1 0a2.55 2.55 0 1 0 -5.1 0M308.3 60.85a2.55 2.55 0 1 0 5.1 0a2.55 2.55 0 1 0 -5.1 0M309.05 60.83a2.55 2.55 0 1 0 5.1 0a2.55 2.55 0 1 0 -5.1 0M309.8 60.82a2.55 2.55 0 1 0 5.1 0a2.55 2.55 0 1 0 -5.1 0M309.95 82.6a2.55 2.55 0 1 0 5.1 0a2.55 2.55 0 1 0 -5.1 0M316.05 256.5a2.55 2.55 0 1 0 5.1 0a2.55 2.55 0 1 0 -5.1 0M316.8 256.75a2.55 2.55 0 1 0 5.1 0a2.55 2.55 0 1 0 -5.1 0M317.55 256.91a2.55 2.55 0 1 0 5.1 0a2.55 2.55 0 1 0 -5.1 0M318.3 257.02a2.55 2.55 0 1 0 5.1 0a2.55 2.55 0 1 0 -5.1 0M319.05 257.09a2.55 2.55 0 1 0 5.1 0a2.55 2.55 0 1 0 -5.1 0M319.8 257.23a2.55 2.55 0 1 0 5.1 0a2.55 2.55 0 1 0 -5.1 0M320.55 257.23a2.55 2.55 0 1 0 5.1 0a2.55 2.55 0 1 0 -5.1 0M321.3 257.23a2.55 2.55 0 1 0 5.1 0a2.55 2.55 0 1 0 -5.1 0M322.05 257.23a2.55 2.55 0 1 0 5.1 0a2.55 2.55 0 1 0 -5.1 0M322.8 257.23a2.55 2.55 0 1 0 5.1 0a2.55 2.55 0 1 0 -5.1 0M323.55 257.23a2.55 2.55 0 1 0 5.1 0a2.55 2.55 0 1 0 -5.1 0M324.3 257.23a2.55 2.55 0 1 0 5.1 0a2.55 2.55 0 1 0 -5.1 0M325.05 257.23a2.55 2.55 0 1 0 5.1 0a2.55 2.55 0 1 0 -5.1 0M325.8 257.23a2.55 2.55 0 1 0 5.1 0a2.55 2.55 0 1 0 -5.1 0M326.55 257.23a2.55 2.55 0 1 0 5.1 0a2.55 2.55 0 1 0 -5.1 0M327.3 257.23a2.55 2.55 0 1 0 5.1 0a2.55 2.55 0 1 0 -5.1 0M328.05 257.23a2.55 2.55 0 1 0 5.1 0a2.55 2.55 0 1 0 -5.1 0M328.8 257.23a2.55 2.55 0 1 0 5.1 0a2.55 2.55 0 1 0 -5.1 0M329.55 257.23a2.55 2.55 0 1 0 5.1 0a2.55 2.55 0 1 0 -5.1 0M330.3 257.23a2.55 2.55 0 1 0 5.1 0a2.55 2.55 0 1 0 -5.1 0M331.05 257.23a2.55 2.55 0 1 0 5.1 0a2.55 2.55 0 1 0 -5.1 0M331.8 257.23a2.55 2.55 0 1 0 5.1 0a2.55 2.55 0 1 0 -5.1 0M332.55 257.23a2.55 2.55 0 1 0 5.1 0a2.55 2.55 0 1 0 -5.1 0M333.3 257.23a2.55 2.55 0 1 0 5.1 0a2.55 2.55 0 1 0 -5.1 0M334.05 257.23a2.55 2.55 0 1 0 5.1 0a2.55 2.55 0 1 0 -5.1 0M334.8 257.23a2.55 2.55 0 1 0 5.1 0a2.55 2.55 0 1 0 -5.1 0M335.55 257.23a2.55 2.55 0 1 0 5.1 0a2.55 2.55 0 1 0 -5.1 0M336.3 257.23a2.55 2.55 0 1 0 5.1 0a2.55 2.55 0 1 0 -5.1 0M337.05 257.23a2.55 2.55 0 1 0 5.1 0a2.55 2.55 0 1 0 -5.1 0M337.8 257.23a2.55 2.55 0 1 0 5.1 0a2.55 2.55 0 1 0 -5.1 0M338.55 257.23a2.55 2.55 0 1 0 5.1 0a2.55 2.55 0 1 0 -5.1 0M339.3 257.23a2.55 2.55 0 1 0 5.1 0a2.55 2.55 0 1 0 -5.1 0" fill="#028282" stroke="none" stroke-width="1" />
</g>
<rect x="59.3" y="33.6" width="283.6" height="227.6" fill="none" stroke="#111" stroke-width="1" />
<line x1="59.4" y1="261.2" x2="59.4" y2="265.2" stroke="#111" stroke-width="1" />
<line x1="93.75" y1="261.2" x2="93.75" y2="263.2" stroke="#111" stroke-width="1" />
<line x1="128.1" y1="261.2" x2="128.1" y2="265.2" stroke="#111" stroke-width="1" />
<line x1="162.45" y1="261.2" x2="162.45" y2="263.2" stroke="#111" stroke-width="1" />
<line x1="196.8" y1="261.2" x2="196.8" y2="265.2" stroke="#111" stroke-width="1" />
<line x1="231.15" y1="261.2" x2="231.15" y2="263.2" stroke="#111" stroke-width="1" />
<line x1="265.5" y1="261.2" x2="265.5" y2="265.2" stroke="#111" stroke-width="1" />
<line x1="299.85" y1="261.2" x2="299.85" y2="263.2" stroke="#111" stroke-width="1" />
<line x1="334.2" y1="261.2" x2="334.2" y2="265.2" stroke="#111" stroke-width="1" />
<line x1="59.3" y1="257.23" x2="57.3" y2="257.23" stroke="#111" stroke-width="1" />
<line x1="59.3" y1="212.5" x2="55.3" y2="212.5" stroke="#111" stroke-width="1" />
<line x1="59.3" y1="167.77" x2="57.3" y2="167.77" stroke="#111" stroke-width="1" />
<line x1="59.3" y1="123.04" x2="55.3" y2="123.04" stroke="#111" stroke-width="1" />
<line x1="59.3" y1="78.31" x2="57.3" y2="78.31" stroke="#111" stroke-width="1" />
<line x1="59.3" y1="33.58" x2="55.3" y2="33.58" stroke="#111" stroke-width="1" />
<text x="59.4" y="279.8" font-size="13.3" text-anchor="middle" fill="#1a1a1a" >0</text>
<text x="128.1" y="279.8" font-size="13.3" text-anchor="middle" fill="#1a1a1a" >40</text>
<text x="196.8" y="279.8" font-size="13.3" text-anchor="middle" fill="#1a1a1a" >80</text>
<text x="265.5" y="279.8" font-size="13.3" text-anchor="middle" fill="#1a1a1a" >120</text>
<text x="334.2" y="279.8" font-size="13.3" text-anchor="middle" fill="#1a1a1a" >160</text>
<text x="50.6" y="214.9" font-size="13.3" text-anchor="end" fill="#1a1a1a" >20</text>
<text x="50.6" y="125.44" font-size="13.3" text-anchor="end" fill="#1a1a1a" >40</text>
<text x="50.6" y="34.58" font-size="13.3" text-anchor="end" fill="#1a1a1a" >60</text>
<text x="201.5" y="300.6" font-size="14.9" text-anchor="middle" fill="#1a1a1a" >Time (s)</text>
<text x="0" y="0" transform="translate(28.3 146.4) rotate(-90)" font-size="14.9" text-anchor="middle" fill="#1a1a1a" >Current (pA)</text>
<text x="76.9" y="59.4" font-size="14.2" text-anchor="start" fill="#028282" >bias = 35 V</text>
<text x="92" y="223.6" font-size="12.1" text-anchor="middle" fill="#1a1a1a" >2.4</text>
<text x="121.2" y="194.9" font-size="12.1" text-anchor="middle" fill="#1a1a1a" >4.8</text>
<text x="158.3" y="166.9" font-size="12.1" text-anchor="middle" fill="#1a1a1a" >7.2</text>
<text x="192.3" y="138.7" font-size="12.1" text-anchor="middle" fill="#1a1a1a" >9.6</text>
<text x="229.3" y="111.1" font-size="12.1" text-anchor="middle" fill="#1a1a1a" >12.0</text>
<text x="267.4" y="84" font-size="12.1" text-anchor="middle" fill="#1a1a1a" >14.4</text>
<text x="267" y="54.6" font-size="12.1" text-anchor="start" fill="#1a1a1a" textLength="73.9" lengthAdjust="spacingAndGlyphs" >16.8 µGy s<tspan dy="-4.36" font-size="9.68">−1</tspan></text>
<text x="9.4" y="27.7" font-size="27" text-anchor="start" fill="#1a1a1a" >a)</text>
<rect x="409.9" y="33" width="281.9" height="226.6" fill="none" stroke="#4d4d4d" stroke-width="1.2" />
<line x1="432.15" y1="259.6" x2="432.15" y2="261.8" stroke="#4d4d4d" stroke-width="1.1" />
<line x1="469.24" y1="259.6" x2="469.24" y2="263.8" stroke="#4d4d4d" stroke-width="1.1" />
<line x1="506.33" y1="259.6" x2="506.33" y2="261.8" stroke="#4d4d4d" stroke-width="1.1" />
<line x1="543.41" y1="259.6" x2="543.41" y2="263.8" stroke="#4d4d4d" stroke-width="1.1" />
<line x1="580.5" y1="259.6" x2="580.5" y2="261.8" stroke="#4d4d4d" stroke-width="1.1" />
<line x1="617.59" y1="259.6" x2="617.59" y2="263.8" stroke="#4d4d4d" stroke-width="1.1" />
<line x1="654.68" y1="259.6" x2="654.68" y2="261.8" stroke="#4d4d4d" stroke-width="1.1" />
<line x1="691.76" y1="259.6" x2="691.76" y2="263.8" stroke="#4d4d4d" stroke-width="1.1" />
<line x1="409.9" y1="259.6" x2="405.7" y2="259.6" stroke="#4d4d4d" stroke-width="1.1" />
<line x1="409.9" y1="227.25" x2="407.7" y2="227.25" stroke="#4d4d4d" stroke-width="1.1" />
<line x1="409.9" y1="194.9" x2="405.7" y2="194.9" stroke="#4d4d4d" stroke-width="1.1" />
<line x1="409.9" y1="162.55" x2="407.7" y2="162.55" stroke="#4d4d4d" stroke-width="1.1" />
<line x1="409.9" y1="130.2" x2="405.7" y2="130.2" stroke="#4d4d4d" stroke-width="1.1" />
<line x1="409.9" y1="97.85" x2="407.7" y2="97.85" stroke="#4d4d4d" stroke-width="1.1" />
<line x1="409.9" y1="65.5" x2="405.7" y2="65.5" stroke="#4d4d4d" stroke-width="1.1" />
<text x="0" y="0" transform="translate(469.24 278.3) scale(1.06 1)" font-size="13" text-anchor="middle" fill="#1a1a1a" >5</text>
<text x="0" y="0" transform="translate(543.41 278.3) scale(1.06 1)" font-size="13" text-anchor="middle" fill="#1a1a1a" >10</text>
<text x="0" y="0" transform="translate(617.59 278.3) scale(1.06 1)" font-size="13" text-anchor="middle" fill="#1a1a1a" >15</text>
<text x="0" y="0" transform="translate(691.76 278.3) scale(1.06 1)" font-size="13" text-anchor="middle" fill="#1a1a1a" >20</text>
<text x="0" y="0" transform="translate(402.4 264.2) scale(1.06 1)" font-size="13" text-anchor="end" fill="#1a1a1a" >0</text>
<text x="0" y="0" transform="translate(402.4 199.5) scale(1.06 1)" font-size="13" text-anchor="end" fill="#1a1a1a" >1</text>
<text x="0" y="0" transform="translate(402.4 134.8) scale(1.06 1)" font-size="13" text-anchor="end" fill="#1a1a1a" >2</text>
<text x="0" y="0" transform="translate(402.4 70.1) scale(1.06 1)" font-size="13" text-anchor="end" fill="#1a1a1a" >3</text>
<polyline points="430.67,251.64 466.27,242.91 501.88,234.82 537.48,226.09 573.09,217.55 608.69,209.65 644.29,201.24" fill="none" stroke="#168a80" stroke-width="1.7" />
<circle cx="430.67" cy="251.64" r="4.5" fill="url(#gT)" stroke="none" stroke-width="1"/>
<circle cx="466.27" cy="242.91" r="4.5" fill="url(#gT)" stroke="none" stroke-width="1"/>
<circle cx="501.88" cy="234.82" r="4.5" fill="url(#gT)" stroke="none" stroke-width="1"/>
<circle cx="537.48" cy="226.09" r="4.5" fill="url(#gT)" stroke="none" stroke-width="1"/>
<circle cx="573.09" cy="217.55" r="4.5" fill="url(#gT)" stroke="none" stroke-width="1"/>
<circle cx="608.69" cy="209.65" r="4.5" fill="url(#gT)" stroke="none" stroke-width="1"/>
<circle cx="644.29" cy="201.24" r="4.5" fill="url(#gT)" stroke="none" stroke-width="1"/>
<polyline points="430.67,246.98 466.27,235.21 501.88,223.04 537.48,211.33 573.09,198.39 608.69,185.65 644.29,173.55" fill="none" stroke="#1b6fb6" stroke-width="1.7" />
<circle cx="430.67" cy="246.98" r="4.5" fill="url(#gB)" stroke="none" stroke-width="1"/>
<circle cx="466.27" cy="235.21" r="4.5" fill="url(#gB)" stroke="none" stroke-width="1"/>
<circle cx="501.88" cy="223.04" r="4.5" fill="url(#gB)" stroke="none" stroke-width="1"/>
<circle cx="537.48" cy="211.33" r="4.5" fill="url(#gB)" stroke="none" stroke-width="1"/>
<circle cx="573.09" cy="198.39" r="4.5" fill="url(#gB)" stroke="none" stroke-width="1"/>
<circle cx="608.69" cy="185.65" r="4.5" fill="url(#gB)" stroke="none" stroke-width="1"/>
<circle cx="644.29" cy="173.55" r="4.5" fill="url(#gB)" stroke="none" stroke-width="1"/>
<polyline points="430.67,232.3 466.27,205.45 501.88,178.92 537.48,151.55 573.09,125.02 608.69,99.27 644.29,71.26" fill="none" stroke="#ef8325" stroke-width="1.7" />
<circle cx="430.67" cy="232.3" r="4.5" fill="url(#gO)" stroke="none" stroke-width="1"/>
<circle cx="466.27" cy="205.45" r="4.5" fill="url(#gO)" stroke="none" stroke-width="1"/>
<circle cx="501.88" cy="178.92" r="4.5" fill="url(#gO)" stroke="none" stroke-width="1"/>
<circle cx="537.48" cy="151.55" r="4.5" fill="url(#gO)" stroke="none" stroke-width="1"/>
<circle cx="573.09" cy="125.02" r="4.5" fill="url(#gO)" stroke="none" stroke-width="1"/>
<circle cx="608.69" cy="99.27" r="4.5" fill="url(#gO)" stroke="none" stroke-width="1"/>
<circle cx="644.29" cy="71.26" r="4.5" fill="url(#gO)" stroke="none" stroke-width="1"/>
<line x1="421.4" y1="49.2" x2="450.7" y2="49.2" stroke="#ef8325" stroke-width="1.5" />
<circle cx="436.1" cy="49.2" r="4.4" fill="url(#gO)" stroke="none" stroke-width="1"/>
<text x="480.6" y="53.9" font-size="12.3" text-anchor="end" fill="#1a1a1a" >35 V</text>
<line x1="421.4" y1="65.1" x2="450.7" y2="65.1" stroke="#1b6fb6" stroke-width="1.5" />
<circle cx="436.1" cy="65.1" r="4.4" fill="url(#gB)" stroke="none" stroke-width="1"/>
<text x="480.6" y="69.8" font-size="12.3" text-anchor="end" fill="#1a1a1a" >20 V</text>
<line x1="421.4" y1="80.8" x2="450.7" y2="80.8" stroke="#168a80" stroke-width="1.5" />
<circle cx="436.1" cy="80.8" r="4.4" fill="url(#gT)" stroke="none" stroke-width="1"/>
<text x="480.6" y="85.5" font-size="12.3" text-anchor="end" fill="#1a1a1a" >5 V</text>
<text x="550.5" y="300.6" font-size="14.7" text-anchor="middle" fill="#1a1a1a" textLength="133.9" lengthAdjust="spacingAndGlyphs" >Dose rate (µGy s<tspan dy="-5.29" font-size="10.58">−1</tspan><tspan dy="5.29"> )</tspan></text>
<text x="0" y="0" transform="translate(383.2 145.3) rotate(-90)" font-size="14.7" text-anchor="middle" fill="#1a1a1a" textLength="176.2" lengthAdjust="spacingAndGlyphs" >Current denstity (nA cm<tspan dy="-5.29" font-size="10.58">−2</tspan><tspan dy="5.29">)</tspan></text>
<text x="418.8" y="110.8" font-size="13.6" text-anchor="start" fill="#ef8325" font-weight="bold" textLength="165.5" lengthAdjust="spacingAndGlyphs" >S<tspan dy="2.99" font-size="10.88">35V</tspan><tspan dy="-2.99"> = 172 µC Gy</tspan><tspan dy="-4.9" font-size="10.88">−1</tspan><tspan dy="4.9"> cm</tspan><tspan dy="-4.9" font-size="10.88">−2</tspan></text>
<text x="530.9" y="171.1" font-size="13.6" text-anchor="start" fill="#1b6fb6" font-weight="bold" textLength="157.8" lengthAdjust="spacingAndGlyphs" >S<tspan dy="2.99" font-size="10.88">20V</tspan><tspan dy="-2.99"> = 80 µC Gy</tspan><tspan dy="-4.9" font-size="10.88">−1</tspan><tspan dy="4.9"> cm</tspan><tspan dy="-4.9" font-size="10.88">−2</tspan></text>
<text x="525" y="247.5" font-size="13.6" text-anchor="start" fill="#168a80" font-weight="bold" textLength="153.7" lengthAdjust="spacingAndGlyphs" >S<tspan dy="2.99" font-size="10.88">5V</tspan><tspan dy="-2.99"> = 54 µC Gy</tspan><tspan dy="-4.9" font-size="10.88">−1</tspan><tspan dy="4.9"> cm</tspan><tspan dy="-4.9" font-size="10.88">−2</tspan></text>
<text x="366.6" y="30.2" font-size="26.2" text-anchor="start" fill="#1a1a1a" >b)</text>
<rect x="766" y="33.6" width="284.2" height="229" fill="none" stroke="#4a4a4a" stroke-width="1.1" />
<line x1="766" y1="33.6" x2="1050.2" y2="33.6" stroke="#222" stroke-width="1.1" />
<line x1="766" y1="262.6" x2="766" y2="266.8" stroke="#4a4a4a" stroke-width="1.1" />
<line x1="789.68" y1="262.6" x2="789.68" y2="264.8" stroke="#4a4a4a" stroke-width="1.1" />
<line x1="813.37" y1="262.6" x2="813.37" y2="266.8" stroke="#4a4a4a" stroke-width="1.1" />
<line x1="837.06" y1="262.6" x2="837.06" y2="264.8" stroke="#4a4a4a" stroke-width="1.1" />
<line x1="860.74" y1="262.6" x2="860.74" y2="266.8" stroke="#4a4a4a" stroke-width="1.1" />
<line x1="884.42" y1="262.6" x2="884.42" y2="264.8" stroke="#4a4a4a" stroke-width="1.1" />
<line x1="908.11" y1="262.6" x2="908.11" y2="266.8" stroke="#4a4a4a" stroke-width="1.1" />
<line x1="931.8" y1="262.6" x2="931.8" y2="264.8" stroke="#4a4a4a" stroke-width="1.1" />
<line x1="955.48" y1="262.6" x2="955.48" y2="266.8" stroke="#4a4a4a" stroke-width="1.1" />
<line x1="979.16" y1="262.6" x2="979.16" y2="264.8" stroke="#4a4a4a" stroke-width="1.1" />
<line x1="1002.85" y1="262.6" x2="1002.85" y2="266.8" stroke="#4a4a4a" stroke-width="1.1" />
<line x1="1026.54" y1="262.6" x2="1026.54" y2="264.8" stroke="#4a4a4a" stroke-width="1.1" />
<line x1="1050.22" y1="262.6" x2="1050.22" y2="266.8" stroke="#4a4a4a" stroke-width="1.1" />
<line x1="766" y1="244.9" x2="761.8" y2="244.9" stroke="#4a4a4a" stroke-width="1.1" />
<line x1="766" y1="218.49" x2="763.8" y2="218.49" stroke="#4a4a4a" stroke-width="1.1" />
<line x1="766" y1="192.07" x2="761.8" y2="192.07" stroke="#4a4a4a" stroke-width="1.1" />
<line x1="766" y1="165.66" x2="763.8" y2="165.66" stroke="#4a4a4a" stroke-width="1.1" />
<line x1="766" y1="139.24" x2="761.8" y2="139.24" stroke="#4a4a4a" stroke-width="1.1" />
<line x1="766" y1="112.83" x2="763.8" y2="112.83" stroke="#4a4a4a" stroke-width="1.1" />
<line x1="766" y1="86.41" x2="761.8" y2="86.41" stroke="#4a4a4a" stroke-width="1.1" />
<line x1="766" y1="60" x2="763.8" y2="60" stroke="#4a4a4a" stroke-width="1.1" />
<line x1="766" y1="33.58" x2="761.8" y2="33.58" stroke="#4a4a4a" stroke-width="1.1" />
<text x="766" y="281.1" font-size="13.9" text-anchor="middle" fill="#1a1a1a" >100</text>
<text x="813.37" y="281.1" font-size="13.9" text-anchor="middle" fill="#1a1a1a" >200</text>
<text x="860.74" y="281.1" font-size="13.9" text-anchor="middle" fill="#1a1a1a" >300</text>
<text x="908.11" y="281.1" font-size="13.9" text-anchor="middle" fill="#1a1a1a" >400</text>
<text x="955.48" y="281.1" font-size="13.9" text-anchor="middle" fill="#1a1a1a" >500</text>
<text x="1002.85" y="281.1" font-size="13.9" text-anchor="middle" fill="#1a1a1a" >600</text>
<text x="1050.22" y="281.1" font-size="13.9" text-anchor="middle" fill="#1a1a1a" >700</text>
<text x="758.2" y="249.7" font-size="13.9" text-anchor="end" fill="#1a1a1a" >30</text>
<text x="758.2" y="196.87" font-size="13.9" text-anchor="end" fill="#1a1a1a" >45</text>
<text x="758.2" y="144.04" font-size="13.9" text-anchor="end" fill="#1a1a1a" >60</text>
<text x="758.2" y="91.21" font-size="13.9" text-anchor="end" fill="#1a1a1a" >75</text>
<text x="758.2" y="38.38" font-size="13.9" text-anchor="end" fill="#1a1a1a" >90</text>
<line x1="779.8" y1="224" x2="1027.2" y2="44.8" stroke="#0f6cb3" stroke-width="2.6" stroke-dasharray="12.8 13.8"/>
<path d="M769.23 224.73L788.83 243.93M769.23 243.93L788.83 224.73M779.03 224.73L786.83 239.13L771.23 239.13Z" fill="none" stroke="#1b76bd" stroke-width="1.15" />
<path d="M788.13 201.14L807.73 220.34M788.13 220.34L807.73 201.14M797.93 201.14L805.73 215.54L790.13 215.54Z" fill="none" stroke="#1b76bd" stroke-width="1.15" />
<path d="M865.34 133.16L884.94 152.36M865.34 152.36L884.94 133.16M875.14 133.16L882.94 147.56L867.34 147.56Z" fill="none" stroke="#1b76bd" stroke-width="1.15" />
<path d="M940 84.21L959.6 103.41M940 103.41L959.6 84.21M949.8 84.21L957.6 98.61L942 98.61Z" fill="none" stroke="#1b76bd" stroke-width="1.15" />
<path d="M1016.74 45.11L1036.34 64.31M1016.74 64.31L1036.34 45.11M1026.54 45.11L1034.34 59.51L1018.74 59.51Z" fill="none" stroke="#1b76bd" stroke-width="1.15" />
<text x="788.1" y="59.6" font-size="13.9" text-anchor="start" fill="#1b76bd" >50 kVp</text>
<text x="788.1" y="76.7" font-size="13.9" text-anchor="start" fill="#1b76bd" >bias = 35 V</text>
<line x1="811.7" y1="233.7" x2="799" y2="233.7" stroke="#ef8325" stroke-width="1.4" />
<path d="M792.8 233.7L802.5 231.3L800.8 233.7L802.5 236.1Z" fill="#ef8325" stroke="none" stroke-width="1" />
<text x="823.7" y="240.7" font-size="13.4" text-anchor="start" fill="#ef8325" font-weight="bold" textLength="77.1" lengthAdjust="spacingAndGlyphs" >128 nGy s<tspan dy="-4.82" font-size="10.45">−1</tspan></text>
<text x="908.1" y="302.2" font-size="14.7" text-anchor="middle" fill="#1a1a1a" textLength="132.4" lengthAdjust="spacingAndGlyphs" >Dose rate (nGy s<tspan dy="-5.29" font-size="10.58">−1</tspan><tspan dy="5.29">)</tspan></text>
<text x="0" y="0" transform="translate(730.2 147.8) rotate(-90)" font-size="14.9" text-anchor="middle" fill="#1a1a1a" >Signal-to-noise</text>
<text x="710" y="27.7" font-size="27" text-anchor="start" fill="#1a1a1a" >c)</text>
<rect x="78.9" y="411" width="16.9" height="137.6" fill="url(#bT)" stroke="none" stroke-width="1" />
<rect x="95.8" y="442" width="16.9" height="106.6" fill="url(#bO)" stroke="none" stroke-width="1" />
<rect x="121.55" y="388" width="16.9" height="160.6" fill="url(#bT)" stroke="none" stroke-width="1" />
<rect x="164.2" y="398" width="16.9" height="150.6" fill="url(#bT)" stroke="none" stroke-width="1" />
<rect x="206.85" y="379.3" width="16.9" height="169.3" fill="url(#bT)" stroke="none" stroke-width="1" />
<rect x="223.75" y="395.6" width="16.9" height="153" fill="url(#bO)" stroke="none" stroke-width="1" />
<rect x="249.5" y="451" width="16.9" height="97.6" fill="url(#bT)" stroke="none" stroke-width="1" />
<rect x="292.15" y="395.2" width="16.9" height="153.4" fill="url(#bT)" stroke="none" stroke-width="1" />
<rect x="334.8" y="393.2" width="16.9" height="155.4" fill="url(#bT)" stroke="none" stroke-width="1" />
<rect x="351.7" y="385.7" width="16.9" height="162.9" fill="url(#bO)" stroke="none" stroke-width="1" />
<rect x="377.45" y="397.3" width="16.9" height="151.3" fill="url(#bT)" stroke="none" stroke-width="1" />
<rect x="394.35" y="383.1" width="16.9" height="165.5" fill="url(#bO)" stroke="none" stroke-width="1" />
<rect x="420.1" y="364.4" width="16.9" height="184.2" fill="url(#bT)" stroke="none" stroke-width="1" />
<rect x="437" y="432.3" width="16.9" height="116.3" fill="url(#bO)" stroke="none" stroke-width="1" />
<rect x="462.75" y="369.6" width="16.9" height="179" fill="url(#bT)" stroke="none" stroke-width="1" />
<rect x="479.65" y="344.3" width="16.9" height="204.3" fill="url(#bO)" stroke="none" stroke-width="1" />
<rect x="505.4" y="515" width="16.9" height="33.6" fill="url(#bT)" stroke="none" stroke-width="1" />
<rect x="522.3" y="390" width="16.9" height="158.6" fill="url(#bO)" stroke="none" stroke-width="1" />
<rect x="548.05" y="389" width="16.9" height="159.6" fill="url(#bT)" stroke="none" stroke-width="1" />
<rect x="590.7" y="350.6" width="16.9" height="198" fill="url(#bT)" stroke="none" stroke-width="1" />
<rect x="607.6" y="484.5" width="16.9" height="64.1" fill="url(#bO)" stroke="none" stroke-width="1" />
<line x1="73.9" y1="317" x2="629.5" y2="317" stroke="#b4b4b4" stroke-width="1.4" />
<line x1="74.5" y1="316.3" x2="74.5" y2="549.6" stroke="#0d6f6e" stroke-width="1.6" />
<line x1="629.5" y1="316.3" x2="629.5" y2="549.6" stroke="#c07318" stroke-width="1.6" />
<line x1="72.9" y1="548.6" x2="628.5" y2="548.6" stroke="#1a1a1a" stroke-width="2" />
<line x1="73.9" y1="548.6" x2="70.3" y2="548.6" stroke="#0d6f6e" stroke-width="1.1" />
<text x="47.9" y="552.8" font-size="11.8" fill="#0d6f6e">10<tspan dy="-4.4" font-size="7.9">-8</tspan></text>
<line x1="73.9" y1="538.5" x2="72.2" y2="538.5" stroke="#0d6f6e" stroke-width="0.9" />
<line x1="73.9" y1="532.59" x2="72.2" y2="532.59" stroke="#0d6f6e" stroke-width="0.9" />
<line x1="73.9" y1="528.4" x2="72.2" y2="528.4" stroke="#0d6f6e" stroke-width="0.9" />
<line x1="73.9" y1="525.15" x2="72.2" y2="525.15" stroke="#0d6f6e" stroke-width="0.9" />
<line x1="73.9" y1="522.49" x2="72.2" y2="522.49" stroke="#0d6f6e" stroke-width="0.9" />
<line x1="73.9" y1="520.25" x2="72.2" y2="520.25" stroke="#0d6f6e" stroke-width="0.9" />
<line x1="73.9" y1="518.3" x2="72.2" y2="518.3" stroke="#0d6f6e" stroke-width="0.9" />
<line x1="73.9" y1="516.59" x2="72.2" y2="516.59" stroke="#0d6f6e" stroke-width="0.9" />
<line x1="73.9" y1="515.05" x2="70.3" y2="515.05" stroke="#0d6f6e" stroke-width="1.1" />
<text x="47.9" y="519.25" font-size="11.8" fill="#0d6f6e">10<tspan dy="-4.4" font-size="7.9">-7</tspan></text>
<line x1="73.9" y1="504.95" x2="72.2" y2="504.95" stroke="#0d6f6e" stroke-width="0.9" />
<line x1="73.9" y1="499.04" x2="72.2" y2="499.04" stroke="#0d6f6e" stroke-width="0.9" />
<line x1="73.9" y1="494.85" x2="72.2" y2="494.85" stroke="#0d6f6e" stroke-width="0.9" />
<line x1="73.9" y1="491.6" x2="72.2" y2="491.6" stroke="#0d6f6e" stroke-width="0.9" />
<line x1="73.9" y1="488.94" x2="72.2" y2="488.94" stroke="#0d6f6e" stroke-width="0.9" />
<line x1="73.9" y1="486.7" x2="72.2" y2="486.7" stroke="#0d6f6e" stroke-width="0.9" />
<line x1="73.9" y1="484.75" x2="72.2" y2="484.75" stroke="#0d6f6e" stroke-width="0.9" />
<line x1="73.9" y1="483.04" x2="72.2" y2="483.04" stroke="#0d6f6e" stroke-width="0.9" />
<line x1="73.9" y1="481.5" x2="70.3" y2="481.5" stroke="#0d6f6e" stroke-width="1.1" />
<text x="47.9" y="485.7" font-size="11.8" fill="#0d6f6e">10<tspan dy="-4.4" font-size="7.9">-6</tspan></text>
<line x1="73.9" y1="471.4" x2="72.2" y2="471.4" stroke="#0d6f6e" stroke-width="0.9" />
<line x1="73.9" y1="465.49" x2="72.2" y2="465.49" stroke="#0d6f6e" stroke-width="0.9" />
<line x1="73.9" y1="461.3" x2="72.2" y2="461.3" stroke="#0d6f6e" stroke-width="0.9" />
<line x1="73.9" y1="458.05" x2="72.2" y2="458.05" stroke="#0d6f6e" stroke-width="0.9" />
<line x1="73.9" y1="455.39" x2="72.2" y2="455.39" stroke="#0d6f6e" stroke-width="0.9" />
<line x1="73.9" y1="453.15" x2="72.2" y2="453.15" stroke="#0d6f6e" stroke-width="0.9" />
<line x1="73.9" y1="451.2" x2="72.2" y2="451.2" stroke="#0d6f6e" stroke-width="0.9" />
<line x1="73.9" y1="449.49" x2="72.2" y2="449.49" stroke="#0d6f6e" stroke-width="0.9" />
<line x1="73.9" y1="447.95" x2="70.3" y2="447.95" stroke="#0d6f6e" stroke-width="1.1" />
<text x="47.9" y="452.15" font-size="11.8" fill="#0d6f6e">10<tspan dy="-4.4" font-size="7.9">-5</tspan></text>
<line x1="73.9" y1="437.85" x2="72.2" y2="437.85" stroke="#0d6f6e" stroke-width="0.9" />
<line x1="73.9" y1="431.94" x2="72.2" y2="431.94" stroke="#0d6f6e" stroke-width="0.9" />
<line x1="73.9" y1="427.75" x2="72.2" y2="427.75" stroke="#0d6f6e" stroke-width="0.9" />
<line x1="73.9" y1="424.5" x2="72.2" y2="424.5" stroke="#0d6f6e" stroke-width="0.9" />
<line x1="73.9" y1="421.84" x2="72.2" y2="421.84" stroke="#0d6f6e" stroke-width="0.9" />
<line x1="73.9" y1="419.6" x2="72.2" y2="419.6" stroke="#0d6f6e" stroke-width="0.9" />
<line x1="73.9" y1="417.65" x2="72.2" y2="417.65" stroke="#0d6f6e" stroke-width="0.9" />
<line x1="73.9" y1="415.94" x2="72.2" y2="415.94" stroke="#0d6f6e" stroke-width="0.9" />
<line x1="73.9" y1="414.4" x2="70.3" y2="414.4" stroke="#0d6f6e" stroke-width="1.1" />
<text x="47.9" y="418.6" font-size="11.8" fill="#0d6f6e">10<tspan dy="-4.4" font-size="7.9">-4</tspan></text>
<line x1="73.9" y1="404.3" x2="72.2" y2="404.3" stroke="#0d6f6e" stroke-width="0.9" />
<line x1="73.9" y1="398.39" x2="72.2" y2="398.39" stroke="#0d6f6e" stroke-width="0.9" />
<line x1="73.9" y1="394.2" x2="72.2" y2="394.2" stroke="#0d6f6e" stroke-width="0.9" />
<line x1="73.9" y1="390.95" x2="72.2" y2="390.95" stroke="#0d6f6e" stroke-width="0.9" />
<line x1="73.9" y1="388.29" x2="72.2" y2="388.29" stroke="#0d6f6e" stroke-width="0.9" />
<line x1="73.9" y1="386.05" x2="72.2" y2="386.05" stroke="#0d6f6e" stroke-width="0.9" />
<line x1="73.9" y1="384.1" x2="72.2" y2="384.1" stroke="#0d6f6e" stroke-width="0.9" />
<line x1="73.9" y1="382.39" x2="72.2" y2="382.39" stroke="#0d6f6e" stroke-width="0.9" />
<line x1="73.9" y1="380.85" x2="70.3" y2="380.85" stroke="#0d6f6e" stroke-width="1.1" />
<text x="47.9" y="385.05" font-size="11.8" fill="#0d6f6e">10<tspan dy="-4.4" font-size="7.9">-3</tspan></text>
<line x1="73.9" y1="370.75" x2="72.2" y2="370.75" stroke="#0d6f6e" stroke-width="0.9" />
<line x1="73.9" y1="364.84" x2="72.2" y2="364.84" stroke="#0d6f6e" stroke-width="0.9" />
<line x1="73.9" y1="360.65" x2="72.2" y2="360.65" stroke="#0d6f6e" stroke-width="0.9" />
<line x1="73.9" y1="357.4" x2="72.2" y2="357.4" stroke="#0d6f6e" stroke-width="0.9" />
<line x1="73.9" y1="354.74" x2="72.2" y2="354.74" stroke="#0d6f6e" stroke-width="0.9" />
<line x1="73.9" y1="352.5" x2="72.2" y2="352.5" stroke="#0d6f6e" stroke-width="0.9" />
<line x1="73.9" y1="350.55" x2="72.2" y2="350.55" stroke="#0d6f6e" stroke-width="0.9" />
<line x1="73.9" y1="348.84" x2="72.2" y2="348.84" stroke="#0d6f6e" stroke-width="0.9" />
<line x1="73.9" y1="347.3" x2="70.3" y2="347.3" stroke="#0d6f6e" stroke-width="1.1" />
<text x="47.9" y="351.5" font-size="11.8" fill="#0d6f6e">10<tspan dy="-4.4" font-size="7.9">-2</tspan></text>
<line x1="73.9" y1="337.2" x2="72.2" y2="337.2" stroke="#0d6f6e" stroke-width="0.9" />
<line x1="73.9" y1="331.29" x2="72.2" y2="331.29" stroke="#0d6f6e" stroke-width="0.9" />
<line x1="73.9" y1="327.1" x2="72.2" y2="327.1" stroke="#0d6f6e" stroke-width="0.9" />
<line x1="73.9" y1="323.85" x2="72.2" y2="323.85" stroke="#0d6f6e" stroke-width="0.9" />
<line x1="73.9" y1="321.19" x2="72.2" y2="321.19" stroke="#0d6f6e" stroke-width="0.9" />
<line x1="73.9" y1="318.95" x2="72.2" y2="318.95" stroke="#0d6f6e" stroke-width="0.9" />
<line x1="73.9" y1="317" x2="72.2" y2="317" stroke="#0d6f6e" stroke-width="0.9" />
<line x1="629.5" y1="548.6" x2="633.7" y2="548.6" stroke="#c07318" stroke-width="1.1" />
<text x="637.4" y="552.7" font-size="11.9" text-anchor="start" fill="#c07318" >0.01</text>
<line x1="629.5" y1="531.16" x2="631.9" y2="531.16" stroke="#c07318" stroke-width="0.9" />
<line x1="629.5" y1="520.95" x2="631.9" y2="520.95" stroke="#c07318" stroke-width="0.9" />
<line x1="629.5" y1="513.71" x2="631.9" y2="513.71" stroke="#c07318" stroke-width="0.9" />
<line x1="629.5" y1="508.09" x2="631.9" y2="508.09" stroke="#c07318" stroke-width="0.9" />
<line x1="629.5" y1="503.51" x2="631.9" y2="503.51" stroke="#c07318" stroke-width="0.9" />
<line x1="629.5" y1="499.63" x2="631.9" y2="499.63" stroke="#c07318" stroke-width="0.9" />
<line x1="629.5" y1="496.27" x2="631.9" y2="496.27" stroke="#c07318" stroke-width="0.9" />
<line x1="629.5" y1="493.3" x2="631.9" y2="493.3" stroke="#c07318" stroke-width="0.9" />
<line x1="629.5" y1="490.65" x2="633.7" y2="490.65" stroke="#c07318" stroke-width="1.1" />
<text x="637.4" y="494.75" font-size="11.9" text-anchor="start" fill="#c07318" >0.1</text>
<line x1="629.5" y1="473.21" x2="631.9" y2="473.21" stroke="#c07318" stroke-width="0.9" />
<line x1="629.5" y1="463" x2="631.9" y2="463" stroke="#c07318" stroke-width="0.9" />
<line x1="629.5" y1="455.76" x2="631.9" y2="455.76" stroke="#c07318" stroke-width="0.9" />
<line x1="629.5" y1="450.14" x2="631.9" y2="450.14" stroke="#c07318" stroke-width="0.9" />
<line x1="629.5" y1="445.56" x2="631.9" y2="445.56" stroke="#c07318" stroke-width="0.9" />
<line x1="629.5" y1="441.68" x2="631.9" y2="441.68" stroke="#c07318" stroke-width="0.9" />
<line x1="629.5" y1="438.32" x2="631.9" y2="438.32" stroke="#c07318" stroke-width="0.9" />
<line x1="629.5" y1="435.35" x2="631.9" y2="435.35" stroke="#c07318" stroke-width="0.9" />
<line x1="629.5" y1="432.7" x2="633.7" y2="432.7" stroke="#c07318" stroke-width="1.1" />
<text x="637.4" y="436.8" font-size="11.9" text-anchor="start" fill="#c07318" >1</text>
<line x1="629.5" y1="415.26" x2="631.9" y2="415.26" stroke="#c07318" stroke-width="0.9" />
<line x1="629.5" y1="405.05" x2="631.9" y2="405.05" stroke="#c07318" stroke-width="0.9" />
<line x1="629.5" y1="397.81" x2="631.9" y2="397.81" stroke="#c07318" stroke-width="0.9" />
<line x1="629.5" y1="392.19" x2="631.9" y2="392.19" stroke="#c07318" stroke-width="0.9" />
<line x1="629.5" y1="387.61" x2="631.9" y2="387.61" stroke="#c07318" stroke-width="0.9" />
<line x1="629.5" y1="383.73" x2="631.9" y2="383.73" stroke="#c07318" stroke-width="0.9" />
<line x1="629.5" y1="380.37" x2="631.9" y2="380.37" stroke="#c07318" stroke-width="0.9" />
<line x1="629.5" y1="377.4" x2="631.9" y2="377.4" stroke="#c07318" stroke-width="0.9" />
<line x1="629.5" y1="374.75" x2="633.7" y2="374.75" stroke="#c07318" stroke-width="1.1" />
<text x="637.4" y="378.85" font-size="11.9" text-anchor="start" fill="#c07318" >10</text>
<line x1="629.5" y1="357.31" x2="631.9" y2="357.31" stroke="#c07318" stroke-width="0.9" />
<line x1="629.5" y1="347.1" x2="631.9" y2="347.1" stroke="#c07318" stroke-width="0.9" />
<line x1="629.5" y1="339.86" x2="631.9" y2="339.86" stroke="#c07318" stroke-width="0.9" />
<line x1="629.5" y1="334.24" x2="631.9" y2="334.24" stroke="#c07318" stroke-width="0.9" />
<line x1="629.5" y1="329.66" x2="631.9" y2="329.66" stroke="#c07318" stroke-width="0.9" />
<line x1="629.5" y1="325.78" x2="631.9" y2="325.78" stroke="#c07318" stroke-width="0.9" />
<line x1="629.5" y1="322.42" x2="631.9" y2="322.42" stroke="#c07318" stroke-width="0.9" />
<line x1="629.5" y1="319.45" x2="631.9" y2="319.45" stroke="#c07318" stroke-width="0.9" />
<line x1="629.5" y1="316.8" x2="633.7" y2="316.8" stroke="#c07318" stroke-width="1.1" />
<text x="637.4" y="320.9" font-size="11.9" text-anchor="start" fill="#c07318" >100</text>
<line x1="95.8" y1="548.6" x2="95.8" y2="553.6" stroke="#1a1a1a" stroke-width="1.2" />
<text x="0" y="0" transform="translate(93.5 563.8) rotate(19.8)" font-size="13.4" text-anchor="start" fill="#1a1a1a" >SCU-12</text>
<line x1="138.45" y1="548.6" x2="138.45" y2="553.6" stroke="#1a1a1a" stroke-width="1.2" />
<text x="0" y="0" transform="translate(136.15 563.8) rotate(19.8)" font-size="13.4" text-anchor="start" fill="#1a1a1a" >SCU-14</text>
<line x1="181.1" y1="548.6" x2="181.1" y2="553.6" stroke="#1a1a1a" stroke-width="1.2" />
<text x="0" y="0" transform="translate(178.8 563.8) rotate(19.8)" font-size="13.4" text-anchor="start" fill="#1a1a1a" >TbTATAB</text>
<line x1="223.75" y1="548.6" x2="223.75" y2="553.6" stroke="#1a1a1a" stroke-width="1.2" />
<text x="0" y="0" transform="translate(221.45 563.8) rotate(19.8)" font-size="13.4" text-anchor="start" fill="#1a1a1a" >RhB<tspan dy="-4.82" font-size="9.38">+</tspan><tspan dy="4.82">@TbTATAB</tspan></text>
<line x1="266.4" y1="548.6" x2="266.4" y2="553.6" stroke="#1a1a1a" stroke-width="1.2" />
<text x="0" y="0" transform="translate(264.1 563.8) rotate(19.8)" font-size="13.4" text-anchor="start" fill="#1a1a1a" >{(EV)[Zn<tspan dy="2.95" font-size="10.45">2</tspan><tspan dy="-2.95">(ox)</tspan><tspan dy="2.95" font-size="10.45">3</tspan><tspan dy="-2.95">]·3.5H</tspan><tspan dy="2.95" font-size="10.45">2</tspan><tspan dy="-2.95">O}</tspan><tspan dy="2.95" font-size="10.45" font-style="italic">n</tspan></text>
<line x1="309.05" y1="548.6" x2="309.05" y2="553.6" stroke="#1a1a1a" stroke-width="1.2" />
<text x="0" y="0" transform="translate(306.75 563.8) rotate(19.8)" font-size="13.4" text-anchor="start" fill="#1a1a1a" >SCU-13</text>
<line x1="351.7" y1="548.6" x2="351.7" y2="553.6" stroke="#1a1a1a" stroke-width="1.2" />
<text x="0" y="0" transform="translate(349.4 563.8) rotate(19.8)" font-size="13.4" text-anchor="start" fill="#1a1a1a" >SCU-13:PVDF</text>
<line x1="394.35" y1="548.6" x2="394.35" y2="553.6" stroke="#1a1a1a" stroke-width="1.2" />
<text x="0" y="0" transform="translate(392.05 563.8) rotate(19.8)" font-size="13.4" text-anchor="start" fill="#1a1a1a" >Ni-DABDT</text>
<line x1="437" y1="548.6" x2="437" y2="553.6" stroke="#1a1a1a" stroke-width="1.2" />
<text x="0" y="0" transform="translate(434.7 563.8) rotate(19.8)" font-size="13.4" text-anchor="start" fill="#1a1a1a" >Ba(Hadba)<tspan dy="2.95" font-size="10.45">2</tspan><tspan dy="-2.95">(DMA)</tspan><tspan dy="2.95" font-size="10.45">4</tspan><tspan dy="-2.95">]</tspan><tspan dy="2.95" font-size="10.45" font-style="italic">n</tspan></text>
<line x1="479.65" y1="548.6" x2="479.65" y2="553.6" stroke="#1a1a1a" stroke-width="1.2" />
<text x="0" y="0" transform="translate(477.35 563.8) rotate(19.8)" font-size="13.4" text-anchor="start" fill="#1a1a1a" >SCU-15</text>
<line x1="522.3" y1="548.6" x2="522.3" y2="553.6" stroke="#1a1a1a" stroke-width="1.2" />
<text x="0" y="0" transform="translate(520 563.8) rotate(19.8)" font-size="13.4" text-anchor="start" fill="#1a1a1a" >Se</text>
<line x1="564.95" y1="548.6" x2="564.95" y2="553.6" stroke="#1a1a1a" stroke-width="1.2" />
<text x="0" y="0" transform="translate(562.65 563.8) rotate(19.8)" font-size="13.4" text-anchor="start" fill="#1a1a1a" >CuI-TPPA</text>
<line x1="607.6" y1="548.6" x2="607.6" y2="553.6" stroke="#1a1a1a" stroke-width="1.2" />
<text x="0" y="0" transform="translate(605.3 563.8) rotate(19.8)" font-size="13.4" text-anchor="start" fill="#c4122a" >This work</text>
<rect x="98.2" y="330.3" width="16.8" height="8" fill="url(#bT)" stroke="none" stroke-width="1" />
<rect x="98.2" y="346.1" width="16.8" height="7.8" fill="url(#bO)" stroke="none" stroke-width="1" />
<text x="117.5" y="336.6" font-size="13.1" text-anchor="start" fill="#1a1a1a" >mobility-lifetime product</text>
<text x="118.9" y="352.4" font-size="13.1" text-anchor="start" fill="#1a1a1a" >detection limit</text>
<text x="0" y="0" transform="translate(32.8 433.5) rotate(-90)" font-size="14.6" text-anchor="middle" fill="#0d6f6e" textLength="210.3" lengthAdjust="spacingAndGlyphs" >Mobility-lifetime product (cm<tspan dy="-5.26" font-size="10.22">2</tspan><tspan dy="5.26"> V</tspan><tspan dy="-5.26" font-size="10.22">−1</tspan><tspan dy="5.26">)</tspan></text>
<text x="0" y="0" transform="translate(679.8 432.6) rotate(-90)" font-size="14.8" text-anchor="middle" fill="#c07318" textLength="148.2" lengthAdjust="spacingAndGlyphs" >Detection limit (µGy·s<tspan dy="-5.33" font-size="10.36">−1</tspan><tspan dy="5.33">)</tspan></text>
<text x="9.6" y="314.5" font-size="26.5" text-anchor="start" fill="#1a1a1a" >d)</text>
<line x1="766.8" y1="319.7" x2="1050.2" y2="319.7" stroke="#4a4a4a" stroke-width="1.2" />
<line x1="1050.2" y1="319.7" x2="1050.2" y2="547.6" stroke="#4a4a4a" stroke-width="1.2" />
<line x1="766.8" y1="319.7" x2="766.8" y2="547.6" stroke="#8c8c8c" stroke-width="1.2" />
<line x1="766.2" y1="547.6" x2="1050.8" y2="547.6" stroke="#6a6a6a" stroke-width="1.4" />
<line x1="783.6" y1="547.6" x2="783.6" y2="551.8" stroke="#555" stroke-width="1.1" />
<line x1="816.93" y1="547.6" x2="816.93" y2="549.8" stroke="#555" stroke-width="1.1" />
<line x1="850.25" y1="547.6" x2="850.25" y2="551.8" stroke="#555" stroke-width="1.1" />
<line x1="883.58" y1="547.6" x2="883.58" y2="549.8" stroke="#555" stroke-width="1.1" />
<line x1="916.9" y1="547.6" x2="916.9" y2="551.8" stroke="#555" stroke-width="1.1" />
<line x1="950.23" y1="547.6" x2="950.23" y2="549.8" stroke="#555" stroke-width="1.1" />
<line x1="983.56" y1="547.6" x2="983.56" y2="551.8" stroke="#555" stroke-width="1.1" />
<line x1="1016.88" y1="547.6" x2="1016.88" y2="549.8" stroke="#555" stroke-width="1.1" />
<line x1="1050.21" y1="547.6" x2="1050.21" y2="551.8" stroke="#555" stroke-width="1.1" />
<line x1="766.8" y1="547.6" x2="762.6" y2="547.6" stroke="#555" stroke-width="1.1" />
<line x1="766.8" y1="524.81" x2="764.6" y2="524.81" stroke="#555" stroke-width="1.1" />
<line x1="766.8" y1="502.02" x2="762.6" y2="502.02" stroke="#555" stroke-width="1.1" />
<line x1="766.8" y1="479.23" x2="764.6" y2="479.23" stroke="#555" stroke-width="1.1" />
<line x1="766.8" y1="456.44" x2="762.6" y2="456.44" stroke="#555" stroke-width="1.1" />
<line x1="766.8" y1="433.65" x2="764.6" y2="433.65" stroke="#555" stroke-width="1.1" />
<line x1="766.8" y1="410.86" x2="762.6" y2="410.86" stroke="#555" stroke-width="1.1" />
<line x1="766.8" y1="388.07" x2="764.6" y2="388.07" stroke="#555" stroke-width="1.1" />
<line x1="766.8" y1="365.28" x2="762.6" y2="365.28" stroke="#555" stroke-width="1.1" />
<line x1="766.8" y1="342.49" x2="764.6" y2="342.49" stroke="#555" stroke-width="1.1" />
<line x1="766.8" y1="319.7" x2="762.6" y2="319.7" stroke="#555" stroke-width="1.1" />
<text x="783.6" y="566.3" font-size="13.9" text-anchor="middle" fill="#1a1a1a" >0</text>
<text x="850.25" y="566.3" font-size="13.9" text-anchor="middle" fill="#1a1a1a" >400</text>
<text x="916.9" y="566.3" font-size="13.9" text-anchor="middle" fill="#1a1a1a" >800</text>
<text x="983.56" y="566.3" font-size="13.9" text-anchor="middle" fill="#1a1a1a" >1200</text>
<text x="1050.21" y="566.3" font-size="13.9" text-anchor="middle" fill="#1a1a1a" >1600</text>
<text x="759.8" y="552.4" font-size="13.9" text-anchor="end" fill="#1a1a1a" >0</text>
<text x="759.8" y="506.82" font-size="13.9" text-anchor="end" fill="#1a1a1a" >2</text>
<text x="759.8" y="461.24" font-size="13.9" text-anchor="end" fill="#1a1a1a" >4</text>
<text x="759.8" y="415.66" font-size="13.9" text-anchor="end" fill="#1a1a1a" >6</text>
<text x="759.8" y="370.08" font-size="13.9" text-anchor="end" fill="#1a1a1a" >8</text>
<text x="759.8" y="324.5" font-size="13.9" text-anchor="end" fill="#1a1a1a" >10</text>
<polyline points="783.6,471.71 784.6,471.72 785.6,471.72 786.6,471.73 787.6,471.75 788.6,471.77 789.6,471.79 790.6,471.82 791.6,471.87 792.6,471.92 793.6,471.99 794.6,472.09 795.6,472.28 796.6,472.68 797.6,473.43 798.6,474.45 799.6,475.35 800.6,475.6 801.6,475.12 802.6,474.31 803.6,473.68 804.6,473.39 805.6,473.35 806.59,473.42 807.59,473.52 808.59,473.61 809.59,473.7 810.59,473.77 811.59,473.83 812.59,473.88 813.59,473.91 814.59,473.94 815.59,473.95 816.59,473.95 817.59,473.93 818.59,473.91 819.59,473.88 820.59,473.85 821.59,473.81 822.59,473.77 823.59,473.73 824.59,473.69 825.59,473.65 826.59,473.62 827.59,473.6 828.59,473.58 829.59,473.57 830.59,473.58 831.59,473.59 832.59,473.62 833.59,473.66 834.59,473.71 835.59,473.76 836.59,473.83 837.59,473.91 838.59,473.99 839.59,474.08 840.59,474.18 841.59,474.27 842.59,474.36 843.59,474.45 844.59,474.54 845.59,474.62 846.59,474.7 847.59,474.76 848.59,474.82 849.59,474.86 850.59,474.9 851.59,474.92 852.58,474.93 853.58,474.97 854.58,475.09 855.58,475.39 856.58,475.88 857.58,476.38 858.58,476.57 859.58,476.27 860.58,475.66 861.58,475.08 862.58,474.7 863.58,474.5 864.58,474.42 865.58,474.42 866.58,474.55 867.58,474.86 868.58,475.34 869.58,475.74 870.58,475.82 871.58,475.5 872.58,475.03 873.58,474.66 874.58,474.49 875.58,474.46 876.58,474.5 877.58,474.57 878.58,474.64 879.58,474.72 880.58,474.8 881.58,474.89 882.58,474.96 883.58,475.04 884.58,475.11 885.58,475.17 886.58,475.22 887.58,475.26 888.58,475.29 889.58,475.31 890.58,475.32 891.58,475.32 892.58,475.34 893.58,475.44 894.58,475.76 895.58,476.41 896.58,477.29 897.57,477.93 898.57,477.86 899.57,477.09 900.57,476.1 901.57,475.33 902.57,474.91 903.57,474.72 904.57,474.63 905.57,474.58 906.57,474.54 907.57,474.52 908.57,474.51 909.57,474.51 910.57,474.52 911.57,474.54 912.57,474.57 913.57,474.62 914.57,474.67 915.57,474.73 916.57,474.8 917.57,474.87 918.57,474.95 919.57,475.03 920.57,475.1 921.57,475.18 922.57,475.24 923.57,475.31 924.57,475.36 925.57,475.41 926.57,475.44 927.57,475.47 928.57,475.48 929.57,475.48 930.57,475.47 931.57,475.44 932.57,475.41 933.57,475.37 934.57,475.33 935.57,475.33 936.57,475.44 937.57,475.78 938.57,476.32 939.57,476.83 940.57,476.95 941.57,476.53 942.57,475.84 943.56,475.22 944.56,474.86 945.56,474.69 946.56,474.63 947.56,474.61 948.56,474.61 949.56,474.62 950.56,474.64 951.56,474.68 952.56,474.72 953.56,474.77 954.56,474.84 955.56,474.9 956.56,474.97 957.56,475.05 958.56,475.12 959.56,475.2 960.56,475.27 961.56,475.33 962.56,475.39 963.56,475.44 964.56,475.48 965.56,475.52 966.56,475.53 967.56,475.54 968.56,475.54 969.56,475.52 970.56,475.49 971.56,475.46 972.56,475.41 973.56,475.35 974.56,475.29 975.56,475.22 976.56,475.15 977.56,475.08 978.56,475 979.56,474.93 980.56,474.87 981.56,474.81 982.56,474.76 983.56,474.71 984.56,474.68 985.56,474.66 986.56,474.65 987.56,474.65 988.55,474.66 989.55,474.69 990.55,474.72 991.55,474.77 992.55,474.82 993.55,474.89 994.55,474.95 995.55,475.03 996.55,475.1 997.55,475.17 998.55,475.25 999.55,475.31 1000.55,475.38 1001.55,475.43 1002.55,475.48 1003.55,475.52 1004.55,475.55 1005.55,475.56 1006.55,475.57 1007.55,475.56 1008.55,475.54 1009.55,475.51 1010.55,475.47 1011.55,475.42 1012.55,475.36 1013.55,475.29 1014.55,475.22 1015.55,475.15 1016.55,475.08 1017.55,475 1018.55,474.93 1019.55,474.87 1020.55,474.81 1021.55,474.76 1022.55,474.72 1023.55,474.69 1024.55,474.67 1025.55,474.66 1026.55,474.67 1027.55,474.68 1028.55,474.71 1029.55,474.75 1030.55,474.8 1031.55,474.85 1032.55,474.92 1033.55,474.98 1034.54,475.06 1035.54,475.13 1036.54,475.2 1037.54,475.28" fill="none" stroke="#0a8287" stroke-width="10.3" stroke-linecap="round" stroke-linejoin="round"/>
<line x1="856.92" y1="470.12" x2="854.92" y2="475.12" stroke="#f4fafa" stroke-width="1.3" stroke-linecap="round"/>
<line x1="860.08" y1="472.62" x2="858.08" y2="477.62" stroke="#f4fafa" stroke-width="1.3" stroke-linecap="round"/>
<line x1="886.91" y1="471.62" x2="884.91" y2="476.62" stroke="#f4fafa" stroke-width="1.3" stroke-linecap="round"/>
<line x1="891.24" y1="470.62" x2="889.24" y2="475.62" stroke="#f4fafa" stroke-width="1.3" stroke-linecap="round"/>
<line x1="936.9" y1="470.12" x2="934.9" y2="475.12" stroke="#f4fafa" stroke-width="1.3" stroke-linecap="round"/>
<line x1="940.07" y1="472.62" x2="938.07" y2="477.62" stroke="#f4fafa" stroke-width="1.3" stroke-linecap="round"/>
<polyline points="783.6,462.71 785.6,462.73 787.6,462.76 789.6,462.79 791.6,462.81 793.6,462.84 795.6,462.87 797.6,462.9 799.6,462.92 801.6,462.95 803.6,462.98 805.6,463 807.59,463.03 809.59,463.06 811.59,463.08 813.59,463.11 815.59,463.14 817.59,463.16 819.59,463.19 821.59,463.22 823.59,463.25 825.59,463.27 827.59,463.3 829.59,463.33 831.59,463.35 833.59,463.38 835.59,463.41 837.59,463.43 839.59,463.46 841.59,463.49 843.59,463.51 845.59,463.54 847.59,463.57 849.59,463.6 851.59,463.62 853.58,463.65 855.58,463.68 857.58,463.7 859.58,463.73 861.58,463.76 863.58,463.78 865.58,463.81 867.58,463.84 869.58,463.86 871.58,463.89 873.58,463.92 875.58,463.95 877.58,463.97 879.58,464 881.58,464.03 883.58,464.05 885.58,464.08 887.58,464.11 889.58,464.13 891.58,464.16 893.58,464.19 895.58,464.21 897.57,464.24 899.57,464.27 901.57,464.3 903.57,464.32 905.57,464.35 907.57,464.38 909.57,464.4 911.57,464.43 913.57,464.46 915.57,464.48 917.57,464.51 919.57,464.54 921.57,464.56 923.57,464.59 925.57,464.62 927.57,464.65 929.57,464.67 931.57,464.7 933.57,464.73 935.57,464.75 937.57,464.78 939.57,464.81 941.57,464.83 943.56,464.86 945.56,464.89 947.56,464.91 949.56,464.94 951.56,464.97 953.56,465 955.56,465.02 957.56,465.05 959.56,465.08 961.56,465.1 963.56,465.13 965.56,465.16 967.56,465.18 969.56,465.21 971.56,465.24 973.56,465.26 975.56,465.29 977.56,465.32 979.56,465.35 981.56,465.37 983.56,465.4 985.56,465.43 987.56,465.45 989.55,465.48 991.55,465.51 993.55,465.53 995.55,465.56 997.55,465.59 999.55,465.61 1001.55,465.64 1003.55,465.67 1005.55,465.7 1007.55,465.72 1009.55,465.75 1011.55,465.78 1013.55,465.8 1015.55,465.83 1017.55,465.86 1019.55,465.88 1021.55,465.91 1023.55,465.94 1025.55,465.96 1027.55,465.99 1029.55,466.02 1031.55,466.04 1033.55,466.07 1035.54,466.1 1037.54,466.13" fill="none" stroke="#ff8010" stroke-width="10.2" stroke-linecap="round" stroke-linejoin="round"/>
<circle cx="1037.54" cy="475.13" r="4" fill="#fff" stroke="#0a8287" stroke-width="0.9"/>
<circle cx="1037.54" cy="466.01" r="4.2" fill="#fff" stroke="#ff8010" stroke-width="0.9"/>
<circle cx="775" cy="343.4" r="4.1" fill="none" stroke="#f3b27a" stroke-width="1"/>
<circle cx="775" cy="361.3" r="4.1" fill="none" stroke="#7dbcbc" stroke-width="1"/>
<text x="794.4" y="347.4" font-size="12.8" text-anchor="start" fill="#1a1a1a" ><tspan font-weight="bold">1</tspan>_pristine</text>
<text x="794.4" y="365" font-size="12.8" text-anchor="start" fill="#1a1a1a" textLength="252.6" lengthAdjust="spacingAndGlyphs" ><tspan font-weight="bold">1</tspan>_moisture (relative humidity of 50% – 75%)</text>
<text x="909" y="587.8" font-size="14.7" text-anchor="middle" fill="#1a1a1a" >Time (s)</text>
<text x="0" y="0" transform="translate(738.2 433) rotate(-90)" font-size="14.9" text-anchor="middle" fill="#1a1a1a" >Current (pA)</text>
<text x="715.6" y="315.2" font-size="26.5" text-anchor="start" fill="#1a1a1a" >e)</text>
<polyline points="63.6,715.2 63.7,895.62 63.96,895.62 64.18,788.07 64.34,685.75 64.61,670.81 65.01,661.54 65.37,657.13 65.55,656.05 65.77,656.59 65.89,668.65 66.06,701.05 66.34,750.55 66.63,809.05 66.88,881.22 67.1,890.22 67.53,893.82 68.25,895.26 69.01,895.62 69.23,788.07 69.39,685.75 69.66,670.81 70.06,661.54 70.42,657.13 70.6,656.05 70.81,656.59 70.94,668.65 71.1,701.05 71.39,750.55 71.68,809.05 71.93,881.22 72.15,890.22 72.58,893.82 73.3,895.26 74.06,895.62 74.28,788.07 74.44,685.75 74.71,670.81 75.11,661.54 75.47,657.13 75.65,656.05 75.86,656.59 75.99,668.65 76.15,701.05 76.44,750.55 76.73,809.05 76.98,881.22 77.2,890.22 77.63,893.82 78.35,895.26 79.11,895.62 79.32,788.07 79.49,685.75 79.76,670.81 80.15,661.54 80.51,657.13 80.69,656.05 80.91,656.59 81.04,668.65 81.2,701.05 81.49,750.55 81.78,809.05 82.03,881.22 82.24,890.22 82.68,893.82 83.4,895.26 84.16,895.62 84.37,788.07 84.53,685.75 84.8,670.81 85.2,661.54 85.56,657.13 85.74,656.05 85.96,656.59 86.09,668.65 86.25,701.05 86.54,750.55 86.82,809.05 87.08,881.22 87.29,890.22 87.73,893.82 88.45,895.26 89.2,895.62 89.42,788.07 89.58,685.75 89.85,670.81 90.25,661.54 90.61,657.13 90.79,656.05 91.01,656.59 91.13,668.65 91.3,701.05 91.58,750.55 91.87,809.05 92.12,881.22 92.34,890.22 92.77,893.82 93.49,895.26 94.25,895.62 94.47,788.07 94.63,685.75 94.9,670.81 95.3,661.54 95.66,657.13 95.84,656.05 96.05,656.59 96.18,668.65 96.34,701.05 96.63,750.55 96.92,809.05 97.17,881.22 97.39,890.22 97.82,893.82 98.54,895.26 99.3,895.62 99.52,788.07 99.68,685.75 99.95,670.81 100.35,661.54 100.71,657.13 100.89,656.05 101.1,656.59 101.23,668.65 101.39,701.05 101.68,750.55 101.97,809.05 102.22,881.22 102.44,890.22 102.87,893.82 103.59,895.26 104.35,895.62 104.56,788.07 104.73,685.75 105,670.81 105.39,661.54 105.75,657.13 105.93,656.05 106.15,656.59 106.28,668.65 106.44,701.05 106.73,750.55 107.02,809.05 107.27,881.22 107.48,890.22 107.92,893.82 108.64,895.26 109.4,895.62 109.61,788.07 109.77,685.75 110.04,670.81 110.44,661.54 110.8,657.13 110.98,656.05 111.2,656.59 111.33,668.65 111.49,701.05 111.78,750.55 112.06,809.05 112.32,881.22 112.53,890.22 112.97,893.82 113.69,895.26 114.44,895.62 114.66,788.07 114.82,685.75 115.09,670.81 115.49,661.54 115.85,657.13 116.03,656.05 116.25,656.59 116.37,668.65 116.54,701.05 116.82,750.55 117.11,809.05 117.36,881.22 117.58,890.22 118.01,893.82 118.73,895.26 119.49,895.62 119.71,788.07 119.87,685.75 120.14,670.81 120.54,661.54 120.9,657.13 121.08,656.05 121.29,656.59 121.42,668.65 121.58,701.05 121.87,750.55 122.16,809.05 122.41,881.22 122.63,890.22 123.06,893.82 123.78,895.26 124.54,895.62 124.76,788.07 124.92,685.75 125.19,670.81 125.59,661.54 125.95,657.13 126.13,656.05 126.34,656.59 126.47,668.65 126.63,701.05 126.92,750.55 127.21,809.05 127.46,881.22 127.68,890.22 128.11,893.82 128.83,895.26 129.59,895.62 129.8,788.07 129.97,685.75 130.24,670.81 130.63,661.54 130.99,657.13 131.17,656.05 131.39,656.59 131.52,668.65 131.68,701.05 131.97,750.55 132.26,809.05 132.51,881.22 132.72,890.22 133.16,893.82 133.88,895.26 134.64,895.62 134.85,788.07 135.01,685.75 135.28,670.81 135.68,661.54 136.04,657.13 136.22,656.05 136.44,656.59 136.56,668.65 136.73,701.05 137.02,750.55 137.3,809.05 137.56,881.22 137.77,890.22 138.21,893.82 138.93,895.26 139.68,895.62 139.9,788.07 140.06,685.75 140.33,670.81 140.73,661.54 141.09,657.13 141.27,656.05 141.49,656.59 141.61,668.65 141.78,701.05 142.06,750.55 142.35,809.05 142.6,881.22 142.82,890.22 143.25,893.82 143.97,895.26 144.73,895.62 144.95,788.07 145.11,685.75 145.38,670.81 145.78,661.54 146.14,657.13 146.32,656.05 146.53,656.59 146.66,668.65 146.82,701.05 147.11,750.55 147.4,809.05 147.65,881.22 147.87,890.22 148.3,893.82 149.02,895.26 149.78,895.62 150,788.07 150.16,685.75 150.43,670.81 150.83,661.54 151.19,657.13 151.37,656.05 151.58,656.59 151.71,668.65 151.87,701.05 152.16,750.55 152.45,809.05 152.7,881.22 152.92,890.22 153.35,893.82 154.07,895.26 154.83,895.62 155.04,788.07 155.21,685.75 155.48,670.81 155.87,661.54 156.23,657.13 156.41,656.05 156.63,656.59 156.76,668.65 156.92,701.05 157.21,750.55 157.5,809.05 157.75,881.22 157.96,890.22 158.4,893.82 159.12,895.26 159.88,895.62 160.09,788.07 160.25,685.75 160.52,670.81 160.92,661.54 161.28,657.13 161.46,656.05 161.68,656.59 161.81,668.65 161.97,701.05 162.26,750.55 162.54,809.05 162.8,881.22 163.01,890.22 163.45,893.82 164.17,895.26 164.92,895.62 165.14,788.07 165.3,685.75 165.57,670.81 165.97,661.54 166.33,657.13 166.51,656.05 166.73,656.59 166.85,668.65 167.02,701.05 167.3,750.55 167.59,809.05 167.84,881.22 168.06,890.22 168.49,893.82 169.21,895.26 169.97,895.62 170.19,788.07 170.35,685.75 170.62,670.81 171.02,661.54 171.38,657.13 171.56,656.05 171.77,656.59 171.9,668.65 172.06,701.05 172.35,750.55 172.64,809.05 172.89,881.22 173.11,890.22 173.54,893.82 174.26,895.26 175.02,895.62 175.24,788.07 175.4,685.75 175.67,670.81 176.07,661.54 176.43,657.13 176.61,656.05 176.82,656.59 176.95,668.65 177.11,701.05 177.4,750.55 177.69,809.05 177.94,881.22 178.16,890.22 178.59,893.82 179.31,895.26 180.07,895.62 180.28,788.07 180.45,685.75 180.72,670.81 181.11,661.54 181.47,657.13 181.65,656.05 181.87,656.59 182,668.65 182.16,701.05 182.45,750.55 182.74,809.05 182.99,881.22 183.2,890.22 183.64,893.82 184.36,895.26 185.12,895.62 185.33,788.07 185.49,685.75 185.76,670.81 186.16,661.54 186.52,657.13 186.7,656.05 186.92,656.59 187.04,668.65 187.21,701.05 187.5,750.55 187.78,809.05 188.04,881.22 188.25,890.22 188.69,893.82 189.41,895.26 190.16,895.62 190.38,788.07 190.54,685.75 190.81,670.81 191.21,661.54 191.57,657.13 191.75,656.05 191.97,656.59 192.09,668.65 192.26,701.05 192.54,750.55 192.83,809.05 193.08,881.22 193.3,890.22 193.73,893.82 194.45,895.26 195.21,895.62 195.43,788.07 195.59,685.75 195.86,670.81 196.26,661.54 196.62,657.13 196.8,656.05 197.01,656.59 197.14,668.65 197.3,701.05 197.59,750.55 197.88,809.05 198.13,881.22 198.35,890.22 198.78,893.82 199.5,895.26 200.26,895.62 200.48,788.07 200.64,685.75 200.91,670.81 201.31,661.54 201.67,657.13 201.85,656.05 202.06,656.59 202.19,668.65 202.35,701.05 202.64,750.55 202.93,809.05 203.18,881.22 203.4,890.22 203.83,893.82 204.55,895.26 205.31,895.62 205.52,788.07 205.69,685.75 205.96,670.81 206.35,661.54 206.71,657.13 206.89,656.05 207.11,656.59 207.24,668.65 207.4,701.05 207.69,750.55 207.98,809.05 208.23,881.22 208.44,890.22 208.88,893.82 209.6,895.26 210.36,895.62 210.57,788.07 210.73,685.75 211,670.81 211.4,661.54 211.76,657.13 211.94,656.05 212.16,656.59 212.28,668.65 212.45,701.05 212.74,750.55 213.02,809.05 213.28,881.22 213.49,890.22 213.93,893.82 214.65,895.26 215.4,895.62 215.62,788.07 215.78,685.75 216.05,670.81 216.45,661.54 216.81,657.13 216.99,656.05 217.21,656.59 217.33,668.65 217.5,701.05 217.78,750.55 218.07,809.05 218.32,881.22 218.54,890.22 218.97,893.82 219.69,895.26 220.45,895.62 220.67,788.07 220.83,685.75 221.1,670.81 221.5,661.54 221.86,657.13 222.04,656.05 222.25,656.59 222.38,668.65 222.54,701.05 222.83,750.55 223.12,809.05 223.37,881.22 223.59,890.22 224.02,893.82 224.74,895.26 225.5,895.62 225.72,788.07 225.88,685.75 226.15,670.81 226.55,661.54 226.91,657.13 227.09,656.05 227.3,656.59 227.43,668.65 227.59,701.05 227.88,750.55 228.17,809.05 228.42,881.22 228.64,890.22 229.07,893.82 229.79,895.26 230.55,895.62 230.76,788.07 230.93,685.75 231.2,670.81 231.59,661.54 231.95,657.13 232.13,656.05 232.35,656.59 232.48,668.65 232.64,701.05 232.93,750.55 233.22,809.05 233.47,881.22 233.68,890.22 234.12,893.82 234.84,895.26 235.6,895.62 235.81,788.07 235.97,685.75 236.24,670.81 236.64,661.54 237,657.13 237.18,656.05 237.4,656.59 237.53,668.65 237.69,701.05 237.98,750.55 238.26,809.05 238.52,881.22 238.73,890.22 239.17,893.82 239.89,895.26 240.64,895.62 240.86,788.07 241.02,685.75 241.29,670.81 241.69,661.54 242.05,657.13 242.23,656.05 242.45,656.59 242.57,668.65 242.74,701.05 243.02,750.55 243.31,809.05 243.56,881.22 243.78,890.22 244.21,893.82 244.93,895.26 245.69,895.62 245.91,788.07 246.07,685.75 246.34,670.81 246.74,661.54 247.1,657.13 247.28,656.05 247.49,656.59 247.62,668.65 247.78,701.05 248.07,750.55 248.36,809.05 248.61,881.22 248.83,890.22 249.26,893.82 249.98,895.26 250.74,895.62 250.96,788.07 251.12,685.75 251.39,670.81 251.79,661.54 252.15,657.13 252.33,656.05 252.54,656.59 252.67,668.65 252.83,701.05 253.12,750.55 253.41,809.05 253.66,881.22 253.88,890.22 254.31,893.82 255.03,895.26 255.79,895.62 256,788.07 256.17,685.75 256.44,670.81 256.83,661.54 257.19,657.13 257.37,656.05 257.59,656.59 257.72,668.65 257.88,701.05 258.17,750.55 258.46,809.05 258.71,881.22 258.92,890.22 259.36,893.82 260.08,895.26 260.84,895.62 261.05,788.07 261.21,685.75 261.48,670.81 261.88,661.54 262.24,657.13 262.42,656.05 262.64,656.59 262.76,668.65 262.93,701.05 263.22,750.55 263.5,809.05 263.76,881.22 263.97,890.22 264.41,893.82 265.13,895.26 265.88,895.62 266.1,788.07 266.26,685.75 266.53,670.81 266.93,661.54 267.29,657.13 267.47,656.05 267.69,656.59 267.81,668.65 267.98,701.05 268.26,750.55 268.55,809.05 268.8,881.22 269.02,890.22 269.45,893.82 270.17,895.26 270.93,895.62 271.15,788.07 271.31,685.75 271.58,670.81 271.98,661.54 272.34,657.13 272.52,656.05 272.73,656.59 272.86,668.65 273.02,701.05 273.31,750.55 273.6,809.05 273.85,881.22 274.07,890.22 274.5,893.82 275.22,895.26 275.98,895.62 276.2,788.07 276.36,685.75 276.63,670.81 277.03,661.54 277.39,657.13 277.57,656.05 277.78,656.59 277.91,668.65 278.07,701.05 278.36,750.55 278.65,809.05 278.9,881.22 279.12,890.22 279.55,893.82 280.27,895.26 281.03,895.62 281.24,788.07 281.41,685.75 281.68,670.81 282.07,661.54 282.43,657.13 282.61,656.05 282.83,656.59 282.96,668.65 283.12,701.05 283.41,750.55 283.7,809.05 283.95,881.22 284.16,890.22 284.6,893.82 285.32,895.26 286.08,895.62 286.29,788.07 286.45,685.75 286.72,670.81 287.12,661.54 287.48,657.13 287.66,656.05 287.88,656.59 288,668.65 288.17,701.05 288.46,750.55 288.74,809.05 289,881.22 289.21,890.22 289.65,893.82 290.37,895.26 291.12,895.62 291.34,788.07 291.5,685.75 291.77,670.81 292.17,661.54 292.53,657.13 292.71,656.05 292.93,656.59 293.05,668.65 293.22,701.05 293.5,750.55 293.79,809.05 294.04,881.22 294.26,890.22 294.69,893.82 295.41,895.26 296.17,895.62 296.39,788.07 296.55,685.75 296.82,670.81 297.22,661.54 297.58,657.13 297.76,656.05 297.97,656.59 298.1,668.65 298.26,701.05 298.55,750.55 298.84,809.05 299.09,881.22 299.31,890.22 299.74,893.82 300.46,895.26 301.22,895.62 301.44,788.07 301.6,685.75 301.87,670.81 302.27,661.54 302.63,657.13 302.81,656.05 303.02,656.59 303.15,668.65 303.31,701.05 303.6,750.55 303.89,809.05 304.14,881.22 304.36,890.22 304.79,893.82 305.51,895.26 306.27,895.62 306.48,788.07 306.65,685.75 306.92,670.81 307.31,661.54 307.67,657.13 307.85,656.05 308.07,656.59 308.2,668.65 308.36,701.05 308.65,750.55 308.94,809.05 309.19,881.22 309.4,890.22 309.84,893.82 310.56,895.26 311.32,895.62 311.53,788.07 311.69,685.75 311.96,670.81 312.36,661.54 312.72,657.13 312.9,656.05 313.12,656.59 313.24,668.65 313.41,701.05 313.7,750.55 313.98,809.05 314.24,881.22 314.45,890.22 314.89,893.82 315.61,895.26 316.36,895.62 316.58,788.07 316.74,685.75 317.01,670.81 317.41,661.54 317.77,657.13 317.95,656.05 318.17,656.59 318.29,668.65 318.46,701.05 318.74,750.55 319.03,809.05 319.28,881.22 319.5,890.22 319.93,893.82 320.65,895.26 321.41,895.62 321.63,788.07 321.79,685.75 322.06,670.81 322.46,661.54 322.82,657.13 323,656.05 323.21,656.59 323.34,668.65 323.5,701.05 323.79,750.55 324.08,809.05 324.33,881.22 324.55,890.22 324.98,893.82 325.7,895.26 326.46,895.62 326.68,788.07 326.84,685.75 327.11,670.81 327.51,661.54 327.87,657.13 328.05,656.05 328.26,656.59 328.39,668.65 328.55,701.05 328.84,750.55 329.13,809.05 329.38,881.22 329.6,890.22 330.03,893.82 330.75,895.26 331.51,895.62 331.72,788.07 331.89,685.75 332.16,670.81 332.55,661.54 332.91,657.13 333.09,656.05 333.31,656.59 333.44,668.65 333.6,701.05 333.89,750.55 334.18,809.05 334.43,881.22 334.64,890.22 335.08,893.82 335.8,895.26 336.56,895.62 336.77,788.07 336.93,685.75 337.2,670.81 337.6,661.54 337.96,657.13 338.14,656.05 338.36,656.59 338.48,668.65 338.65,701.05 338.94,750.55 339.22,809.05 339.48,881.22 339.69,890.22 340.13,893.82 340.85,895.26 341.6,895.62 341.82,788.07 341.98,685.75 342.25,670.81 342.65,661.54 343.01,657.13 343.19,656.05 343.41,656.59 343.53,668.65 343.7,701.05 343.98,750.55 344.27,809.05 344.52,881.22 344.74,890.22 345.17,893.82 345.89,895.26 346.65,895.62 346.87,788.07 347.03,685.75 347.3,670.81 347.7,661.54 348.06,657.13 348.24,656.05 348.45,656.59 348.58,668.65 348.74,701.05 349.03,750.55 349.32,809.05 349.57,881.22 349.79,890.22 350.22,893.82 350.94,895.26 351.7,895.62 351.92,788.07 352.08,685.75 352.35,670.81 352.75,661.54 353.11,657.13 353.29,656.05 353.5,656.59 353.63,668.65 353.79,701.05 354.08,750.55 354.37,809.05 354.62,881.22 354.84,890.22 355.27,893.82 355.99,895.26 356.75,895.62 356.96,788.07 357.13,685.75 357.4,670.81 357.79,661.54 358.15,657.13 358.33,656.05 358.55,656.59 358.68,668.65 358.84,701.05 359.13,750.55 359.42,809.05 359.67,881.22 359.88,890.22 360.32,893.82 361.04,895.26 361.8,895.62 362.01,788.07 362.17,685.75 362.44,670.81 362.84,661.54 363.2,657.13 363.38,656.05 363.6,656.59 363.72,668.65 363.89,701.05 364.18,750.55 364.46,809.05 364.72,881.22 364.93,890.22 365.37,893.82 366.09,895.26 366.84,895.62 367.06,788.07 367.22,685.75 367.49,670.81 367.89,661.54 368.25,657.13 368.43,656.05 368.65,656.59 368.77,668.65 368.94,701.05 369.22,750.55 369.51,809.05 369.76,881.22 369.98,890.22 370.41,893.82 371.13,895.26 371.89,895.62 372.11,788.07 372.27,685.75 372.54,670.81 372.94,661.54 373.3,657.13 373.48,656.05 373.69,656.59 373.82,668.65 373.98,701.05 374.27,750.55 374.56,809.05 374.81,881.22 375.03,890.22 375.46,893.82 376.18,895.26 376.94,895.62 377.16,788.07 377.32,685.75 377.59,670.81 377.99,661.54 378.35,657.13 378.53,656.05 378.74,656.59 378.87,668.65 379.03,701.05 379.32,750.55 379.61,809.05 379.86,881.22 380.08,890.22 380.51,893.82 381.23,895.26 381.99,895.62 382.2,788.07 382.37,685.75 382.64,670.81 383.03,661.54 383.39,657.13 383.57,656.05 383.79,656.59 383.92,668.65 384.08,701.05 384.37,750.55 384.66,809.05 384.91,881.22 385.12,890.22 385.56,893.82 386.28,895.26 387.04,895.62 387.25,788.07 387.41,685.75 387.68,670.81 388.08,661.54 388.44,657.13 388.62,656.05 388.84,656.59 388.96,668.65 389.13,701.05 389.42,750.55 389.7,809.05 389.96,881.22 390.17,890.22 390.61,893.82 391.33,895.26 392.08,895.62 392.3,788.07 392.46,685.75 392.73,670.81 393.13,661.54 393.49,657.13 393.67,656.05 393.89,656.59 394.01,668.65 394.18,701.05 394.46,750.55 394.75,809.05 395,881.22 395.22,890.22 395.65,893.82 396.37,895.26 397.13,895.62 397.35,788.07 397.51,685.75 397.78,670.81 398.18,661.54 398.54,657.13 398.72,656.05 398.93,656.59 399.06,668.65 399.22,701.05 399.51,750.55 399.8,809.05 400.05,881.22 400.27,890.22 400.7,893.82 401.42,895.26 402.18,895.62 402.4,788.07 402.56,685.75 402.83,670.81 403.23,661.54 403.59,657.13 403.77,656.05 403.98,656.59 404.11,668.65 404.27,701.05 404.56,750.55 404.85,809.05 405.1,881.22 405.32,890.22 405.75,893.82 406.47,895.26 407.23,895.62 407.44,788.07 407.61,685.75 407.88,670.81 408.27,661.54 408.63,657.13 408.81,656.05 409.03,656.59 409.16,668.65 409.32,701.05 409.61,750.55 409.9,809.05 410.15,881.22 410.36,890.22 410.8,893.82 411.52,895.26 412.28,895.62 412.49,788.07 412.65,685.75 412.92,670.81 413.32,661.54 413.68,657.13 413.86,656.05 414.08,656.59 414.2,668.65 414.37,701.05 414.66,750.55 414.94,809.05 415.2,881.22 415.41,890.22 415.85,893.82 416.57,895.26 417.32,895.62 417.54,788.07 417.7,685.75 417.97,670.81 418.37,661.54 418.73,657.13 418.91,656.05 419.13,656.59 419.25,668.65 419.42,701.05 419.7,750.55 419.99,809.05 420.24,881.22 420.46,890.22 420.89,893.82 421.61,895.26 422.37,895.62 422.59,788.07 422.75,685.75 423.02,670.81 423.42,661.54 423.78,657.13 423.96,656.05 424.17,656.59 424.3,668.65 424.46,701.05 424.75,750.55 425.04,809.05 425.29,881.22 425.51,890.22 425.94,893.82 426.66,895.26 427.42,895.62 427.64,788.07 427.8,685.75 428.07,670.81 428.47,661.54 428.83,657.13 429.01,656.05 429.22,656.59 429.35,668.65 429.51,701.05 429.8,750.55 430.09,809.05 430.34,881.22 430.56,890.22 430.99,893.82 431.71,895.26 432.47,895.62 432.68,788.07 432.85,685.75 433.12,670.81 433.51,661.54 433.87,657.13 434.05,656.05 434.27,656.59 434.4,668.65 434.56,701.05 434.85,750.55 435.14,809.05 435.39,881.22 435.6,890.22 436.04,893.82 436.76,895.26 437.52,895.62 437.73,788.07 437.89,685.75 438.16,670.81 438.56,661.54 438.92,657.13 439.1,656.05 439.32,656.59 439.44,668.65 439.61,701.05 439.9,750.55 440.18,809.05 440.44,881.22 440.65,890.22 441.09,893.82 441.81,895.26 442.56,895.62 442.78,788.07 442.94,685.75 443.21,670.81 443.61,661.54 443.97,657.13 444.15,656.05 444.37,656.59 444.49,668.65 444.66,701.05 444.94,750.55 445.23,809.05 445.48,881.22 445.7,890.22 446.13,893.82 446.85,895.26 447.61,895.62 447.83,788.07 447.99,685.75 448.26,670.81 448.66,661.54 449.02,657.13 449.2,656.05 449.41,656.59 449.54,668.65 449.7,701.05 449.99,750.55 450.28,809.05 450.53,881.22 450.75,890.22 451.18,893.82 451.9,895.26 452.66,895.62 452.88,788.07 453.04,685.75 453.31,670.81 453.71,661.54 454.07,657.13 454.25,656.05 454.46,656.59 454.59,668.65 454.75,701.05 455.04,750.55 455.33,809.05 455.58,881.22 455.8,890.22 456.23,893.82 456.95,895.26 457.71,895.62 457.92,788.07 458.09,685.75 458.36,670.81 458.75,661.54 459.11,657.13 459.29,656.05 459.51,656.59 459.64,668.65 459.8,701.05 460.09,750.55 460.38,809.05 460.63,881.22 460.84,890.22 461.28,893.82 462,895.26 462.76,895.62 462.97,788.07 463.13,685.75 463.4,670.81 463.8,661.54 464.16,657.13 464.34,656.05 464.56,656.59 464.69,668.65 464.85,701.05 465.14,750.55 465.42,809.05 465.68,881.22 465.89,890.22 466.33,893.82 467.05,895.26 467.8,895.62 468.02,788.07 468.18,685.75 468.45,670.81 468.85,661.54 469.21,657.13 469.39,656.05 469.61,656.59 469.73,668.65 469.9,701.05 470.18,750.55 470.47,809.05 470.72,881.22 470.94,890.22 471.37,893.82 472.09,895.26 472.85,895.62 473.07,788.07 473.23,685.75 473.5,670.81 473.9,661.54 474.26,657.13 474.44,656.05 474.65,656.59 474.78,668.65 474.94,701.05 475.23,750.55 475.52,809.05 475.77,881.22 475.99,890.22 476.42,893.82 477.14,895.26 477.9,895.62 478.12,788.07 478.28,685.75 478.55,670.81 478.95,661.54 479.31,657.13 479.49,656.05 479.7,656.59 479.83,668.65 479.99,701.05 480.28,750.55 480.57,809.05 480.82,881.22 481.04,890.22 481.47,893.82 482.19,895.26 482.95,895.62 483.16,788.07 483.33,685.75 483.6,670.81 483.99,661.54 484.35,657.13 484.53,656.05 484.75,656.59 484.88,668.65 485.04,701.05 485.33,750.55 485.62,809.05 485.87,881.22 486.08,890.22 486.52,893.82 487.24,895.26 488,895.62 488.21,788.07 488.37,685.75 488.64,670.81 489.04,661.54 489.4,657.13 489.58,656.05 489.8,656.59 489.92,668.65 490.09,701.05 490.38,750.55 490.66,809.05 490.92,881.22 491.13,890.22 491.57,893.82 492.29,895.26 493.04,895.62 493.26,788.07 493.42,685.75 493.69,670.81 494.09,661.54 494.45,657.13 494.63,656.05 494.85,656.59 494.97,668.65 495.14,701.05 495.42,750.55 495.71,809.05 495.96,881.22 496.18,890.22 496.61,893.82 497.33,895.26 498.09,895.62 498.31,788.07 498.47,685.75 498.74,670.81 499.14,661.54 499.5,657.13 499.68,656.05 499.89,656.59 500.02,668.65 500.18,701.05 500.47,750.55 500.76,809.05 501.01,881.22 501.23,890.22 501.66,893.82 502.38,895.26 503.14,895.62 503.36,788.07 503.52,685.75 503.79,670.81 504.19,661.54 504.55,657.13 504.73,656.05 504.94,656.59 505.07,668.65 505.23,701.05 505.52,750.55 505.81,809.05 506.06,881.22 506.28,890.22 506.71,893.82 507.43,895.26 508.19,895.62 508.4,788.07 508.57,685.75 508.84,670.81 509.23,661.54 509.59,657.13 509.77,656.05 509.99,656.59 510.12,668.65 510.28,701.05 510.57,750.55 510.86,809.05 511.11,881.22 511.32,890.22 511.76,893.82 512.48,895.26 513.24,895.62 513.45,788.07 513.61,685.75 513.88,670.81 514.28,661.54 514.64,657.13 514.82,656.05 515.04,656.59 515.16,668.65 515.33,701.05 515.62,750.55 515.9,809.05 516.16,881.22 516.37,890.22 516.81,893.82 517.53,895.26 518.28,895.62 518.5,788.07 518.66,685.75 518.93,670.81 519.33,661.54 519.69,657.13 519.87,656.05 520.09,656.59 520.21,668.65 520.38,701.05 520.66,750.55 520.95,809.05 521.2,881.22 521.42,890.22 521.85,893.82 522.57,895.26 523.33,895.62 523.55,788.07 523.71,685.75 523.98,670.81 524.38,661.54 524.74,657.13 524.92,656.05 525.13,656.59 525.26,668.65 525.42,701.05 525.71,750.55 526,809.05 526.25,881.22 526.47,890.22 526.9,893.82 527.62,895.26 528.38,895.62 528.6,788.07 528.76,685.75 529.03,670.81 529.43,661.54 529.79,657.13 529.97,656.05 530.18,656.59 530.31,668.65 530.47,701.05 530.76,750.55 531.05,809.05 531.3,881.22 531.52,890.22 531.95,893.82 532.67,895.26 533.43,895.62 533.64,788.07 533.81,685.75 534.08,670.81 534.47,661.54 534.83,657.13 535.01,656.05 535.23,656.59 535.36,668.65 535.52,701.05 535.81,750.55 536.1,809.05 536.35,881.22 536.56,890.22 537,893.82 537.72,895.26 538.48,895.62 538.69,788.07 538.85,685.75 539.12,670.81 539.52,661.54 539.88,657.13 540.06,656.05 540.28,656.59 540.4,668.65 540.57,701.05 540.86,750.55 541.14,809.05 541.4,881.22 541.61,890.22 542.05,893.82 542.77,895.26 543.52,895.62 543.74,788.07 543.9,685.75 544.17,670.81 544.57,661.54 544.93,657.13 545.11,656.05 545.33,656.59 545.45,668.65 545.62,701.05 545.9,750.55 546.19,809.05 546.44,881.22 546.66,890.22 547.09,893.82 547.81,895.26 548.57,895.62 548.79,788.07 548.95,685.75 549.22,670.81 549.62,661.54 549.98,657.13 550.16,656.05 550.37,656.59 550.5,668.65 550.66,701.05 550.95,750.55 551.24,809.05 551.49,881.22 551.71,890.22 552.14,893.82 552.86,895.26 553.62,895.62 553.84,788.07 554,685.75 554.27,670.81 554.67,661.54 555.03,657.13 555.21,656.05 555.42,656.59 555.55,668.65 555.71,701.05 556,750.55 556.29,809.05 556.54,881.22 556.76,890.22 557.19,893.82 557.91,895.26 558.67,895.62 558.88,788.07 559.05,685.75 559.32,670.81 559.71,661.54 560.07,657.13 560.25,656.05 560.47,656.59 560.6,668.65 560.76,701.05 561.05,750.55 561.34,809.05 561.59,881.22 561.8,890.22 562.24,893.82 562.96,895.26 566.8,895.92" fill="none" stroke="#028282" stroke-width="1.5" stroke-linejoin="round"/>
<rect x="62.9" y="625.1" width="504.9" height="277.1" fill="none" stroke="#111" stroke-width="1.3" />
<line x1="63.2" y1="902.2" x2="63.2" y2="906.6" stroke="#111" stroke-width="1.1" />
<line x1="119.7" y1="902.2" x2="119.7" y2="904.6" stroke="#111" stroke-width="1.1" />
<line x1="176.2" y1="902.2" x2="176.2" y2="906.6" stroke="#111" stroke-width="1.1" />
<line x1="232.7" y1="902.2" x2="232.7" y2="904.6" stroke="#111" stroke-width="1.1" />
<line x1="289.2" y1="902.2" x2="289.2" y2="906.6" stroke="#111" stroke-width="1.1" />
<line x1="345.71" y1="902.2" x2="345.71" y2="904.6" stroke="#111" stroke-width="1.1" />
<line x1="402.21" y1="902.2" x2="402.21" y2="906.6" stroke="#111" stroke-width="1.1" />
<line x1="458.71" y1="902.2" x2="458.71" y2="904.6" stroke="#111" stroke-width="1.1" />
<line x1="515.21" y1="902.2" x2="515.21" y2="906.6" stroke="#111" stroke-width="1.1" />
<line x1="62.9" y1="879.9" x2="58.5" y2="879.9" stroke="#111" stroke-width="1.1" />
<line x1="62.9" y1="857.44" x2="60.5" y2="857.44" stroke="#111" stroke-width="1.1" />
<line x1="62.9" y1="834.98" x2="58.5" y2="834.98" stroke="#111" stroke-width="1.1" />
<line x1="62.9" y1="812.52" x2="60.5" y2="812.52" stroke="#111" stroke-width="1.1" />
<line x1="62.9" y1="790.06" x2="58.5" y2="790.06" stroke="#111" stroke-width="1.1" />
<line x1="62.9" y1="767.6" x2="60.5" y2="767.6" stroke="#111" stroke-width="1.1" />
<line x1="62.9" y1="745.14" x2="58.5" y2="745.14" stroke="#111" stroke-width="1.1" />
<line x1="62.9" y1="722.68" x2="60.5" y2="722.68" stroke="#111" stroke-width="1.1" />
<line x1="62.9" y1="700.22" x2="58.5" y2="700.22" stroke="#111" stroke-width="1.1" />
<line x1="62.9" y1="677.76" x2="60.5" y2="677.76" stroke="#111" stroke-width="1.1" />
<line x1="62.9" y1="655.3" x2="58.5" y2="655.3" stroke="#111" stroke-width="1.1" />
<line x1="62.9" y1="632.85" x2="60.5" y2="632.85" stroke="#111" stroke-width="1.1" />
<text x="0" y="0" transform="translate(63.2 922.7) scale(1.09 1)" font-size="13.3" text-anchor="middle" fill="#1a1a1a" >0</text>
<text x="0" y="0" transform="translate(176.2 922.7) scale(1.09 1)" font-size="13.3" text-anchor="middle" fill="#1a1a1a" >650</text>
<text x="0" y="0" transform="translate(289.2 922.7) scale(1.09 1)" font-size="13.3" text-anchor="middle" fill="#1a1a1a" >1300</text>
<text x="0" y="0" transform="translate(402.21 922.7) scale(1.09 1)" font-size="13.3" text-anchor="middle" fill="#1a1a1a" >1950</text>
<text x="0" y="0" transform="translate(515.21 922.7) scale(1.09 1)" font-size="13.3" text-anchor="middle" fill="#1a1a1a" >2600</text>
<text x="0" y="0" transform="translate(53 884.6) scale(1.09 1)" font-size="13.3" text-anchor="end" fill="#1a1a1a" >6</text>
<text x="0" y="0" transform="translate(53 839.68) scale(1.09 1)" font-size="13.3" text-anchor="end" fill="#1a1a1a" >9</text>
<text x="0" y="0" transform="translate(53 794.76) scale(1.09 1)" font-size="13.3" text-anchor="end" fill="#1a1a1a" >12</text>
<text x="0" y="0" transform="translate(53 749.84) scale(1.09 1)" font-size="13.3" text-anchor="end" fill="#1a1a1a" >15</text>
<text x="0" y="0" transform="translate(53 704.92) scale(1.09 1)" font-size="13.3" text-anchor="end" fill="#1a1a1a" >18</text>
<text x="0" y="0" transform="translate(53 660) scale(1.09 1)" font-size="13.3" text-anchor="end" fill="#1a1a1a" >21</text>
<text x="93.9" y="645.4" font-size="16.3" text-anchor="start" fill="#1a1a1a" textLength="86.5" lengthAdjust="spacingAndGlyphs" >Bias = 35 V</text>
<text x="201.1" y="645.4" font-size="16.3" text-anchor="start" fill="#1a1a1a" textLength="189.5" lengthAdjust="spacingAndGlyphs" >Dose rate = 19.2 µGy s<tspan dy="-5.87" font-size="13.04">−1</tspan></text>
<text x="406.6" y="645.4" font-size="16.3" text-anchor="start" fill="#1a1a1a" textLength="98.4" lengthAdjust="spacingAndGlyphs" >Cycles = 100</text>
<rect x="225.1" y="656.3" width="148.7" height="242.5" fill="none" stroke="#f2221c" stroke-width="1.9" stroke-dasharray="3.7 8.7"/>
<text x="315.4" y="940.2" font-size="16.6" text-anchor="middle" fill="#1a1a1a" >Time (s)</text>
<text x="0" y="0" transform="translate(30.2 763.7) rotate(-90)" font-size="16.9" text-anchor="middle" fill="#1a1a1a" >Current (pA)</text>
<text x="16.8" y="622.4" font-size="26.5" text-anchor="start" fill="#1a1a1a" >f)</text>
<clipPath id="cg"><rect x="644.7" y="627.2" width="412.1" height="276.1"/></clipPath>
<g clip-path="url(#cg)">
<polyline points="645.2,899.77 648.5,899.77 649.1,780.27 649.55,661.69 650.3,645.09 651.4,634.79 652.4,629.89 652.9,628.69 653.5,629.29 653.85,642.69 654.3,678.69 655.1,733.69 655.9,798.69 656.6,883.77 657.2,893.77 658.4,897.77 660.4,899.37 662.44,899.77 663.04,780.27 663.49,661.69 664.24,645.09 665.34,634.79 666.34,629.89 666.84,628.69 667.44,629.29 667.79,642.69 668.24,678.69 669.04,733.69 669.84,798.69 670.54,883.77 671.14,893.77 672.34,897.77 674.34,899.37 676.38,899.77 676.98,780.27 677.43,661.69 678.18,645.09 679.28,634.79 680.28,629.89 680.78,628.69 681.38,629.29 681.73,642.69 682.18,678.69 682.98,733.69 683.78,798.69 684.48,883.77 685.08,893.77 686.28,897.77 688.28,899.37 690.32,899.77 690.92,780.27 691.37,661.69 692.12,645.09 693.22,634.79 694.22,629.89 694.72,628.69 695.32,629.29 695.67,642.69 696.12,678.69 696.92,733.69 697.72,798.69 698.42,883.77 699.02,893.77 700.22,897.77 702.22,899.37 704.26,899.77 704.86,780.27 705.31,661.69 706.06,645.09 707.16,634.79 708.16,629.89 708.66,628.69 709.26,629.29 709.61,642.69 710.06,678.69 710.86,733.69 711.66,798.69 712.36,883.77 712.96,893.77 714.16,897.77 716.16,899.37 718.2,899.77 718.8,780.27 719.25,661.69 720,645.09 721.1,634.79 722.1,629.89 722.6,628.69 723.2,629.29 723.55,642.69 724,678.69 724.8,733.69 725.6,798.69 726.3,883.77 726.9,893.77 728.1,897.77 730.1,899.37 732.14,899.77 732.74,780.27 733.19,661.69 733.94,645.09 735.04,634.79 736.04,629.89 736.54,628.69 737.14,629.29 737.49,642.69 737.94,678.69 738.74,733.69 739.54,798.69 740.24,883.77 740.84,893.77 742.04,897.77 744.04,899.37 746.08,899.77 746.68,780.27 747.13,661.69 747.88,645.09 748.98,634.79 749.98,629.89 750.48,628.69 751.08,629.29 751.43,642.69 751.88,678.69 752.68,733.69 753.48,798.69 754.18,883.77 754.78,893.77 755.98,897.77 757.98,899.37 760.02,899.77 760.62,780.27 761.07,661.69 761.82,645.09 762.92,634.79 763.92,629.89 764.42,628.69 765.02,629.29 765.37,642.69 765.82,678.69 766.62,733.69 767.42,798.69 768.12,883.77 768.72,893.77 769.92,897.77 771.92,899.37 773.96,899.77 774.56,780.27 775.01,661.69 775.76,645.09 776.86,634.79 777.86,629.89 778.36,628.69 778.96,629.29 779.31,642.69 779.76,678.69 780.56,733.69 781.36,798.69 782.06,883.77 782.66,893.77 783.86,897.77 785.86,899.37 787.9,899.77 788.5,780.27 788.95,661.69 789.7,645.09 790.8,634.79 791.8,629.89 792.3,628.69 792.9,629.29 793.25,642.69 793.7,678.69 794.5,733.69 795.3,798.69 796,883.77 796.6,893.77 797.8,897.77 799.8,899.37 801.84,899.77 802.44,780.27 802.89,661.69 803.64,645.09 804.74,634.79 805.74,629.89 806.24,628.69 806.84,629.29 807.19,642.69 807.64,678.69 808.44,733.69 809.24,798.69 809.94,883.77 810.54,893.77 811.74,897.77 813.74,899.37 815.78,899.77 816.38,780.27 816.83,661.69 817.58,645.09 818.68,634.79 819.68,629.89 820.18,628.69 820.78,629.29 821.13,642.69 821.58,678.69 822.38,733.69 823.18,798.69 823.88,883.77 824.48,893.77 825.68,897.77 827.68,899.37 829.72,899.77 830.32,780.27 830.77,661.69 831.52,645.09 832.62,634.79 833.62,629.89 834.12,628.69 834.72,629.29 835.07,642.69 835.52,678.69 836.32,733.69 837.12,798.69 837.82,883.77 838.42,893.77 839.62,897.77 841.62,899.37 843.66,899.77 844.26,780.27 844.71,661.69 845.46,645.09 846.56,634.79 847.56,629.89 848.06,628.69 848.66,629.29 849.01,642.69 849.46,678.69 850.26,733.69 851.06,798.69 851.76,883.77 852.36,893.77 853.56,897.77 855.56,899.37 857.6,899.77 858.2,780.27 858.65,661.69 859.4,645.09 860.5,634.79 861.5,629.89 862,628.69 862.6,629.29 862.95,642.69 863.4,678.69 864.2,733.69 865,798.69 865.7,883.77 866.3,893.77 867.5,897.77 869.5,899.37 871.54,899.77 872.14,780.27 872.59,661.69 873.34,645.09 874.44,634.79 875.44,629.89 875.94,628.69 876.54,629.29 876.89,642.69 877.34,678.69 878.14,733.69 878.94,798.69 879.64,883.77 880.24,893.77 881.44,897.77 883.44,899.37 885.48,899.77 886.08,780.27 886.53,661.69 887.28,645.09 888.38,634.79 889.38,629.89 889.88,628.69 890.48,629.29 890.83,642.69 891.28,678.69 892.08,733.69 892.88,798.69 893.58,883.77 894.18,893.77 895.38,897.77 897.38,899.37 899.42,899.77 900.02,780.27 900.47,661.69 901.22,645.09 902.32,634.79 903.32,629.89 903.82,628.69 904.42,629.29 904.77,642.69 905.22,678.69 906.02,733.69 906.82,798.69 907.52,883.77 908.12,893.77 909.32,897.77 911.32,899.37 913.36,899.77 913.96,780.27 914.41,661.69 915.16,645.09 916.26,634.79 917.26,629.89 917.76,628.69 918.36,629.29 918.71,642.69 919.16,678.69 919.96,733.69 920.76,798.69 921.46,883.77 922.06,893.77 923.26,897.77 925.26,899.37 927.3,899.77 927.9,780.27 928.35,661.69 929.1,645.09 930.2,634.79 931.2,629.89 931.7,628.69 932.3,629.29 932.65,642.69 933.1,678.69 933.9,733.69 934.7,798.69 935.4,883.77 936,893.77 937.2,897.77 939.2,899.37 941.24,899.77 941.84,780.27 942.29,661.69 943.04,645.09 944.14,634.79 945.14,629.89 945.64,628.69 946.24,629.29 946.59,642.69 947.04,678.69 947.84,733.69 948.64,798.69 949.34,883.77 949.94,893.77 951.14,897.77 953.14,899.37 955.18,899.77 955.78,780.27 956.23,661.69 956.98,645.09 958.08,634.79 959.08,629.89 959.58,628.69 960.18,629.29 960.53,642.69 960.98,678.69 961.78,733.69 962.58,798.69 963.28,883.77 963.88,893.77 965.08,897.77 967.08,899.37 969.12,899.77 969.72,780.27 970.17,661.69 970.92,645.09 972.02,634.79 973.02,629.89 973.52,628.69 974.12,629.29 974.47,642.69 974.92,678.69 975.72,733.69 976.52,798.69 977.22,883.77 977.82,893.77 979.02,897.77 981.02,899.37 983.06,899.77 983.66,780.27 984.11,661.69 984.86,645.09 985.96,634.79 986.96,629.89 987.46,628.69 988.06,629.29 988.41,642.69 988.86,678.69 989.66,733.69 990.46,798.69 991.16,883.77 991.76,893.77 992.96,897.77 994.96,899.37 997,899.77 997.6,780.27 998.05,661.69 998.8,645.09 999.9,634.79 1000.9,629.89 1001.4,628.69 1002,629.29 1002.35,642.69 1002.8,678.69 1003.6,733.69 1004.4,798.69 1005.1,883.77 1005.7,893.77 1006.9,897.77 1008.9,899.37 1010.94,899.77 1011.54,780.27 1011.99,661.69 1012.74,645.09 1013.84,634.79 1014.84,629.89 1015.34,628.69 1015.94,629.29 1016.29,642.69 1016.74,678.69 1017.54,733.69 1018.34,798.69 1019.04,883.77 1019.64,893.77 1020.84,897.77 1022.84,899.37 1024.88,899.77 1025.48,780.27 1025.93,661.69 1026.68,645.09 1027.78,634.79 1028.78,629.89 1029.28,628.69 1029.88,629.29 1030.23,642.69 1030.68,678.69 1031.48,733.69 1032.28,798.69 1032.98,883.77 1033.58,893.77 1034.78,897.77 1036.78,899.37 1038.82,899.77 1039.42,780.27 1039.87,661.69 1040.62,645.09 1041.72,634.79 1042.72,629.89 1043.22,628.69 1043.82,629.29 1044.17,642.69 1044.62,678.69 1045.42,733.69 1046.22,798.69 1046.92,883.77 1047.52,893.77 1048.72,897.77 1050.72,899.37 1052.76,899.77 1053.36,780.27 1053.81,661.69 1054.56,645.09 1055.66,634.79 1056.66,629.89 1057.16,628.69 1057.76,629.29 1058.11,642.69 1058.56,678.69 1059.36,733.69 1060.16,798.69 1060.86,883.77 1061.46,893.77 1062.66,897.77 1064.66,899.37" fill="none" stroke="#028282" stroke-width="1.95" stroke-linejoin="round"/>
</g>
<rect x="644.7" y="627.2" width="412.1" height="276.1" fill="none" stroke="#111" stroke-width="1.5" />
<line x1="677.7" y1="903.3" x2="677.7" y2="907.9" stroke="#111" stroke-width="1.2" />
<line x1="798.1" y1="903.3" x2="798.1" y2="905.9" stroke="#111" stroke-width="1.2" />
<line x1="918.5" y1="903.3" x2="918.5" y2="907.9" stroke="#111" stroke-width="1.2" />
<line x1="1038.9" y1="903.3" x2="1038.9" y2="905.9" stroke="#111" stroke-width="1.2" />
<line x1="644.7" y1="899.26" x2="642.1" y2="899.26" stroke="#111" stroke-width="1.2" />
<line x1="644.7" y1="882.2" x2="640.1" y2="882.2" stroke="#111" stroke-width="1.2" />
<line x1="644.7" y1="865.14" x2="642.1" y2="865.14" stroke="#111" stroke-width="1.2" />
<line x1="644.7" y1="848.08" x2="640.1" y2="848.08" stroke="#111" stroke-width="1.2" />
<line x1="644.7" y1="831.02" x2="642.1" y2="831.02" stroke="#111" stroke-width="1.2" />
<line x1="644.7" y1="813.96" x2="640.1" y2="813.96" stroke="#111" stroke-width="1.2" />
<line x1="644.7" y1="796.9" x2="642.1" y2="796.9" stroke="#111" stroke-width="1.2" />
<line x1="644.7" y1="779.84" x2="640.1" y2="779.84" stroke="#111" stroke-width="1.2" />
<line x1="644.7" y1="762.78" x2="642.1" y2="762.78" stroke="#111" stroke-width="1.2" />
<line x1="644.7" y1="745.72" x2="640.1" y2="745.72" stroke="#111" stroke-width="1.2" />
<line x1="644.7" y1="728.66" x2="642.1" y2="728.66" stroke="#111" stroke-width="1.2" />
<line x1="644.7" y1="711.6" x2="640.1" y2="711.6" stroke="#111" stroke-width="1.2" />
<line x1="644.7" y1="694.54" x2="642.1" y2="694.54" stroke="#111" stroke-width="1.2" />
<line x1="644.7" y1="677.48" x2="640.1" y2="677.48" stroke="#111" stroke-width="1.2" />
<line x1="644.7" y1="660.42" x2="642.1" y2="660.42" stroke="#111" stroke-width="1.2" />
<line x1="644.7" y1="643.36" x2="640.1" y2="643.36" stroke="#111" stroke-width="1.2" />
<text x="677.7" y="922.6" font-size="13.3" text-anchor="middle" fill="#1a1a1a" >1000</text>
<text x="918.5" y="922.6" font-size="13.3" text-anchor="middle" fill="#1a1a1a" >1500</text>
<text x="634.6" y="886.9" font-size="13.3" text-anchor="end" fill="#1a1a1a" >6</text>
<text x="634.6" y="852.78" font-size="13.3" text-anchor="end" fill="#1a1a1a" >8</text>
<text x="634.6" y="818.66" font-size="13.3" text-anchor="end" fill="#1a1a1a" >10</text>
<text x="634.6" y="784.54" font-size="13.3" text-anchor="end" fill="#1a1a1a" >12</text>
<text x="634.6" y="750.42" font-size="13.3" text-anchor="end" fill="#1a1a1a" >14</text>
<text x="634.6" y="716.3" font-size="13.3" text-anchor="end" fill="#1a1a1a" >16</text>
<text x="634.6" y="682.18" font-size="13.3" text-anchor="end" fill="#1a1a1a" >18</text>
<text x="634.6" y="648.06" font-size="13.3" text-anchor="end" fill="#1a1a1a" >20</text>
<text x="851" y="944" font-size="16.8" text-anchor="middle" fill="#1a1a1a" >Time (s)</text>
<text x="0" y="0" transform="translate(612.7 765) rotate(-90)" font-size="17" text-anchor="middle" fill="#1a1a1a" >Current (pA)</text>
<text x="590.4" y="622.4" font-size="26.5" text-anchor="start" fill="#1a1a1a" >g)</text>
</svg>
</body></html>
